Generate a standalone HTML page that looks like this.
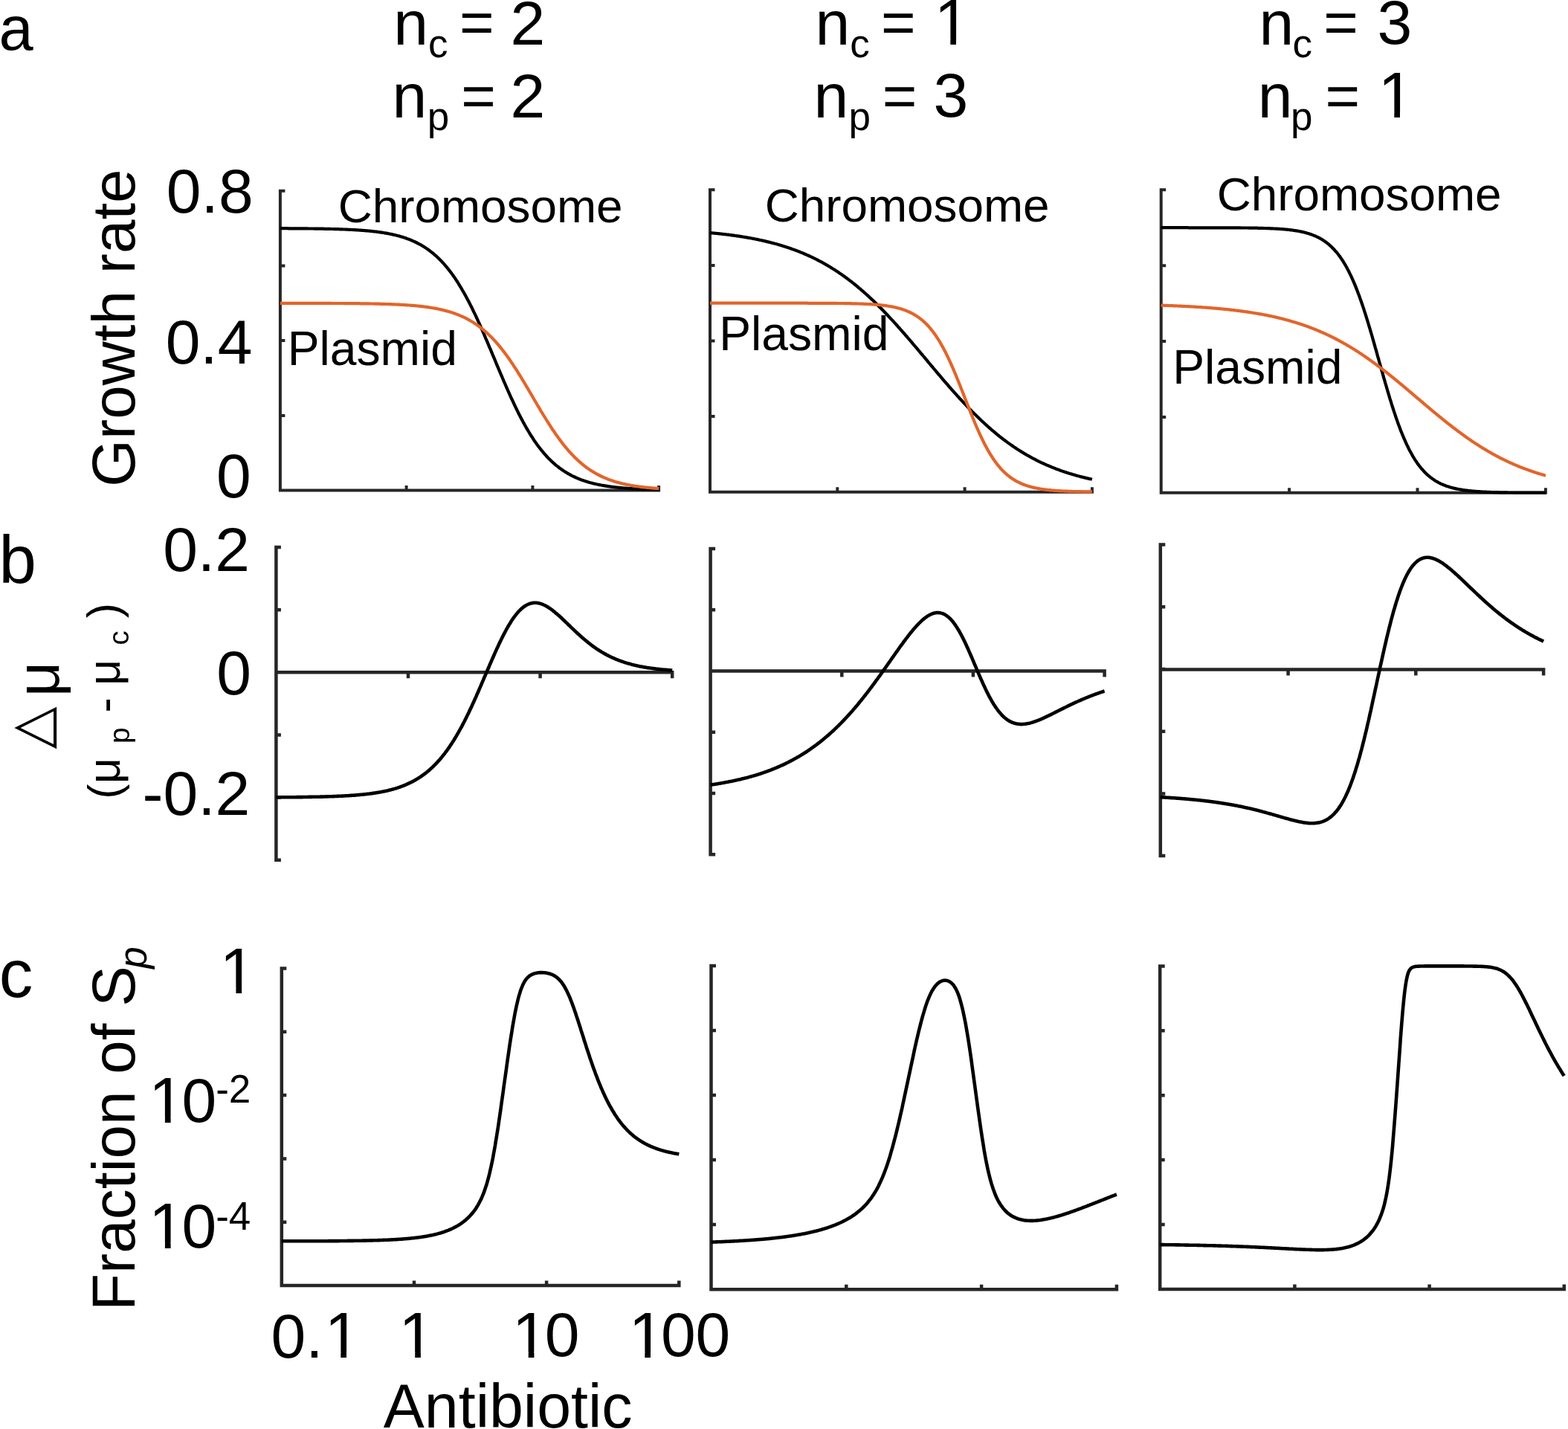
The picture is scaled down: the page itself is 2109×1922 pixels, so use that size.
<!DOCTYPE html>
<html><head><meta charset="utf-8"><title>Figure</title>
<style>html,body{margin:0;padding:0;background:#fff;overflow:hidden;}svg{display:block;}</style></head>
<body><svg width="2109" height="1922" viewBox="0 0 2109 1922" font-family="'Liberation Sans', Arial, sans-serif" fill="#000">
<rect width="2109" height="1922" fill="#fff"/>
<path d="M376.9,254.7 L376.9,659.6 L888.1,659.6 M376.9,256.7 h6.5 M376.9,357.4 h6.5 M376.9,458.1 h6.5 M376.9,558.9 h6.5 M376.9,659.6 h6.5 M376.9,659.6 v-6.5 M546.6,659.6 v-6.5 M716.4,659.6 v-6.5 M886.1,659.6 v-6.5" fill="none" stroke="#262626" stroke-width="4.0" stroke-linecap="butt"/>
<path d="M955.0,253.3 L955.0,661.7 L1470.9,661.7 M955.0,255.3 h6.5 M955.0,356.9 h6.5 M955.0,458.5 h6.5 M955.0,560.1 h6.5 M955.0,661.7 h6.5 M955.0,661.7 v-6.5 M1126.3,661.7 v-6.5 M1297.6,661.7 v-6.5 M1468.9,661.7 v-6.5" fill="none" stroke="#262626" stroke-width="4.0" stroke-linecap="butt"/>
<path d="M1561.7,253.3 L1561.7,662.8 L2080.9,662.8 M1561.7,255.3 h6.5 M1561.7,357.2 h6.5 M1561.7,459.0 h6.5 M1561.7,560.9 h6.5 M1561.7,662.8 h6.5 M1561.7,662.8 v-6.5 M1734.1,662.8 v-6.5 M1906.5,662.8 v-6.5 M2078.9,662.8 v-6.5" fill="none" stroke="#262626" stroke-width="4.0" stroke-linecap="butt"/>
<path d="M371.4,733.85 L371.4,1158.95 M371.4,904.3 L906.45,904.3 M371.4,736.1 h6.5 M371.4,820.2 h6.5 M371.4,904.3 h6.5 M371.4,988.5 h6.5 M371.4,1072.6 h6.5 M371.4,1156.7 h6.5 M549.0,904.3 v8.0 M726.6,904.3 v8.0 M904.2,904.3 v8.0" fill="none" stroke="#262626" stroke-width="4.5" stroke-linecap="butt"/>
<path d="M955.6,735.85 L955.6,1151.45 M955.6,902.5 L1487.85,902.5 M955.6,738.1 h6.5 M955.6,820.3 h6.5 M955.6,902.5 h6.5 M955.6,984.8 h6.5 M955.6,1067.0 h6.5 M955.6,1149.2 h6.5 M1132.3,902.5 v8.0 M1308.9,902.5 v8.0 M1485.6,902.5 v8.0" fill="none" stroke="#262626" stroke-width="4.5" stroke-linecap="butt"/>
<path d="M1560.8,730.25 L1560.8,1153.35 M1560.8,900.6 L2078.35,900.6 M1560.8,732.5 h6.5 M1560.8,816.2 h6.5 M1560.8,899.9 h6.5 M1560.8,983.7 h6.5 M1560.8,1067.4 h6.5 M1560.8,1151.1 h6.5 M1732.6,900.6 v8.0 M1904.3,900.6 v8.0 M2076.1,900.6 v8.0" fill="none" stroke="#262626" stroke-width="4.5" stroke-linecap="butt"/>
<path d="M378.8,1300.15 L378.8,1729.0 L915.55,1729.0 M378.8,1302.4 h6.5 M378.8,1387.7 h6.5 M378.8,1473.0 h6.5 M378.8,1558.4 h6.5 M378.8,1643.7 h6.5 M378.8,1729.0 h6.5 M378.8,1729.0 v-6.5 M557.0,1729.0 v-6.5 M735.1,1729.0 v-6.5 M913.3,1729.0 v-6.5" fill="none" stroke="#262626" stroke-width="4.5" stroke-linecap="butt"/>
<path d="M956.5,1296.65 L956.5,1734.2 L1504.15,1734.2 M956.5,1298.9 h6.5 M956.5,1386.0 h6.5 M956.5,1473.0 h6.5 M956.5,1560.1 h6.5 M956.5,1647.1 h6.5 M956.5,1734.2 h6.5 M956.5,1734.2 v-6.5 M1138.3,1734.2 v-6.5 M1320.1,1734.2 v-6.5 M1501.9,1734.2 v-6.5" fill="none" stroke="#262626" stroke-width="4.5" stroke-linecap="butt"/>
<path d="M1560.2,1297.15 L1560.2,1733.9 L2106.05,1733.9 M1560.2,1299.4 h6.5 M1560.2,1386.3 h6.5 M1560.2,1473.2 h6.5 M1560.2,1560.1 h6.5 M1560.2,1647.0 h6.5 M1560.2,1733.9 h6.5 M1560.2,1733.9 v-6.5 M1741.4,1733.9 v-6.5 M1922.6,1733.9 v-6.5 M2103.8,1733.9 v-6.5" fill="none" stroke="#262626" stroke-width="4.5" stroke-linecap="butt"/>
<path d="M376.9,307.2 L377.9,307.2 378.9,307.2 380.0,307.2 381.0,307.2 382.0,307.2 383.0,307.2 384.0,307.2 385.1,307.2 386.1,307.2 387.1,307.2 388.1,307.3 389.1,307.3 390.2,307.3 391.2,307.3 392.2,307.3 393.2,307.3 394.2,307.3 395.3,307.3 396.3,307.3 397.3,307.3 398.3,307.3 399.3,307.3 400.4,307.3 401.4,307.3 402.4,307.3 403.4,307.4 404.5,307.4 405.5,307.4 406.5,307.4 407.5,307.4 408.5,307.4 409.6,307.4 410.6,307.4 411.6,307.4 412.6,307.4 413.6,307.4 414.7,307.5 415.7,307.5 416.7,307.5 417.7,307.5 418.7,307.5 419.8,307.5 420.8,307.5 421.8,307.5 422.8,307.6 423.8,307.6 424.9,307.6 425.9,307.6 426.9,307.6 427.9,307.6 428.9,307.6 430.0,307.7 431.0,307.7 432.0,307.7 433.0,307.7 434.0,307.7 435.1,307.7 436.1,307.8 437.1,307.8 438.1,307.8 439.1,307.8 440.2,307.8 441.2,307.9 442.2,307.9 443.2,307.9 444.2,307.9 445.3,308.0 446.3,308.0 447.3,308.0 448.3,308.0 449.4,308.1 450.4,308.1 451.4,308.1 452.4,308.2 453.4,308.2 454.5,308.2 455.5,308.2 456.5,308.3 457.5,308.3 458.5,308.3 459.6,308.4 460.6,308.4 461.6,308.5 462.6,308.5 463.6,308.5 464.7,308.6 465.7,308.6 466.7,308.7 467.7,308.7 468.7,308.8 469.8,308.8 470.8,308.9 471.8,308.9 472.8,309.0 473.8,309.0 474.9,309.1 475.9,309.1 476.9,309.2 477.9,309.2 478.9,309.3 480.0,309.4 481.0,309.4 482.0,309.5 483.0,309.6 484.0,309.6 485.1,309.7 486.1,309.8 487.1,309.8 488.1,309.9 489.1,310.0 490.2,310.1 491.2,310.2 492.2,310.3 493.2,310.3 494.3,310.4 495.3,310.5 496.3,310.6 497.3,310.7 498.3,310.8 499.4,310.9 500.4,311.0 501.4,311.1 502.4,311.3 503.4,311.4 504.5,311.5 505.5,311.6 506.5,311.7 507.5,311.9 508.5,312.0 509.6,312.1 510.6,312.3 511.6,312.4 512.6,312.6 513.6,312.7 514.7,312.9 515.7,313.0 516.7,313.2 517.7,313.4 518.7,313.6 519.8,313.7 520.8,313.9 521.8,314.1 522.8,314.3 523.8,314.5 524.9,314.7 525.9,314.9 526.9,315.1 527.9,315.4 528.9,315.6 530.0,315.8 531.0,316.1 532.0,316.3 533.0,316.5 534.0,316.8 535.1,317.1 536.1,317.3 537.1,317.6 538.1,317.9 539.2,318.2 540.2,318.5 541.2,318.8 542.2,319.1 543.2,319.5 544.3,319.8 545.3,320.1 546.3,320.5 547.3,320.9 548.3,321.2 549.4,321.6 550.4,322.0 551.4,322.4 552.4,322.8 553.4,323.2 554.5,323.7 555.5,324.1 556.5,324.6 557.5,325.0 558.5,325.5 559.6,326.0 560.6,326.5 561.6,327.0 562.6,327.6 563.6,328.1 564.7,328.7 565.7,329.2 566.7,329.8 567.7,330.4 568.7,331.0 569.8,331.6 570.8,332.3 571.8,332.9 572.8,333.6 573.8,334.3 574.9,335.0 575.9,335.7 576.9,336.5 577.9,337.2 578.9,338.0 580.0,338.8 581.0,339.6 582.0,340.4 583.0,341.2 584.0,342.1 585.1,343.0 586.1,343.9 587.1,344.8 588.1,345.8 589.2,346.7 590.2,347.7 591.2,348.7 592.2,349.7 593.2,350.8 594.3,351.9 595.3,353.0 596.3,354.1 597.3,355.2 598.3,356.4 599.4,357.6 600.4,358.8 601.4,360.0 602.4,361.3 603.4,362.6 604.5,363.9 605.5,365.2 606.5,366.5 607.5,367.9 608.5,369.3 609.6,370.8 610.6,372.2 611.6,373.7 612.6,375.2 613.6,376.8 614.7,378.3 615.7,379.9 616.7,381.5 617.7,383.2 618.7,384.8 619.8,386.5 620.8,388.2 621.8,390.0 622.8,391.7 623.8,393.5 624.9,395.4 625.9,397.2 626.9,399.1 627.9,401.0 628.9,402.9 630.0,404.8 631.0,406.8 632.0,408.8 633.0,410.8 634.1,412.8 635.1,414.9 636.1,417.0 637.1,419.1 638.1,421.2 639.2,423.4 640.2,425.5 641.2,427.7 642.2,429.9 643.2,432.2 644.3,434.4 645.3,436.7 646.3,438.9 647.3,441.2 648.3,443.5 649.4,445.9 650.4,448.2 651.4,450.5 652.4,452.9 653.4,455.3 654.5,457.7 655.5,460.1 656.5,462.5 657.5,464.9 658.5,467.3 659.6,469.7 660.6,472.1 661.6,474.6 662.6,477.0 663.6,479.4 664.7,481.9 665.7,484.3 666.7,486.8 667.7,489.2 668.7,491.6 669.8,494.1 670.8,496.5 671.8,498.9 672.8,501.3 673.8,503.7 674.9,506.2 675.9,508.5 676.9,510.9 677.9,513.3 679.0,515.7 680.0,518.0 681.0,520.4 682.0,522.7 683.0,525.0 684.1,527.3 685.1,529.6 686.1,531.8 687.1,534.1 688.1,536.3 689.2,538.5 690.2,540.7 691.2,542.9 692.2,545.0 693.2,547.2 694.3,549.3 695.3,551.4 696.3,553.4 697.3,555.5 698.3,557.5 699.4,559.5 700.4,561.5 701.4,563.4 702.4,565.3 703.4,567.2 704.5,569.1 705.5,571.0 706.5,572.8 707.5,574.6 708.5,576.4 709.6,578.1 710.6,579.8 711.6,581.5 712.6,583.2 713.6,584.8 714.7,586.5 715.7,588.0 716.7,589.6 717.7,591.2 718.7,592.7 719.8,594.2 720.8,595.6 721.8,597.1 722.8,598.5 723.8,599.9 724.9,601.2 725.9,602.6 726.9,603.9 727.9,605.1 729.0,606.4 730.0,607.6 731.0,608.9 732.0,610.1 733.0,611.2 734.1,612.4 735.1,613.5 736.1,614.6 737.1,615.7 738.1,616.7 739.2,617.7 740.2,618.8 741.2,619.7 742.2,620.7 743.2,621.7 744.3,622.6 745.3,623.5 746.3,624.4 747.3,625.3 748.3,626.1 749.4,626.9 750.4,627.7 751.4,628.5 752.4,629.3 753.4,630.1 754.5,630.8 755.5,631.5 756.5,632.2 757.5,632.9 758.5,633.6 759.6,634.3 760.6,634.9 761.6,635.5 762.6,636.1 763.6,636.7 764.7,637.3 765.7,637.9 766.7,638.5 767.7,639.0 768.7,639.5 769.8,640.1 770.8,640.6 771.8,641.0 772.8,641.5 773.9,642.0 774.9,642.5 775.9,642.9 776.9,643.3 777.9,643.8 779.0,644.2 780.0,644.6 781.0,645.0 782.0,645.4 783.0,645.7 784.1,646.1 785.1,646.4 786.1,646.8 787.1,647.1 788.1,647.5 789.2,647.8 790.2,648.1 791.2,648.4 792.2,648.7 793.2,649.0 794.3,649.3 795.3,649.5 796.3,649.8 797.3,650.1 798.3,650.3 799.4,650.6 800.4,650.8 801.4,651.0 802.4,651.3 803.4,651.5 804.5,651.7 805.5,651.9 806.5,652.1 807.5,652.3 808.5,652.5 809.6,652.7 810.6,652.9 811.6,653.1 812.6,653.2 813.6,653.4 814.7,653.6 815.7,653.7 816.7,653.9 817.7,654.1 818.8,654.2 819.8,654.3 820.8,654.5 821.8,654.6 822.8,654.8 823.9,654.9 824.9,655.0 825.9,655.1 826.9,655.3 827.9,655.4 829.0,655.5 830.0,655.6 831.0,655.7 832.0,655.8 833.0,655.9 834.1,656.0 835.1,656.1 836.1,656.2 837.1,656.3 838.1,656.4 839.2,656.5 840.2,656.6 841.2,656.6 842.2,656.7 843.2,656.8 844.3,656.9 845.3,657.0 846.3,657.0 847.3,657.1 848.3,657.2 849.4,657.2 850.4,657.3 851.4,657.4 852.4,657.4 853.4,657.5 854.5,657.5 855.5,657.6 856.5,657.6 857.5,657.7 858.5,657.7 859.6,657.8 860.6,657.8 861.6,657.9 862.6,657.9 863.7,658.0 864.7,658.0 865.7,658.1 866.7,658.1 867.7,658.2 868.8,658.2 869.8,658.2 870.8,658.3 871.8,658.3 872.8,658.3 873.9,658.4 874.9,658.4 875.9,658.4 876.9,658.5 877.9,658.5 879.0,658.5 880.0,658.6 881.0,658.6 882.0,658.6 883.0,658.6 884.1,658.7 885.1,658.7 886.1,658.7" fill="none" stroke="#000" stroke-width="4.2"/>
<path d="M376.9,407.8 L377.9,407.8 378.9,407.8 380.0,407.8 381.0,407.8 382.0,407.8 383.0,407.8 384.0,407.8 385.1,407.8 386.1,407.8 387.1,407.8 388.1,407.8 389.1,407.8 390.2,407.8 391.2,407.8 392.2,407.8 393.2,407.8 394.2,407.8 395.3,407.8 396.3,407.8 397.3,407.8 398.3,407.8 399.3,407.8 400.4,407.8 401.4,407.8 402.4,407.8 403.4,407.8 404.5,407.8 405.5,407.8 406.5,407.8 407.5,407.8 408.5,407.8 409.6,407.8 410.6,407.9 411.6,407.9 412.6,407.9 413.6,407.9 414.7,407.9 415.7,407.9 416.7,407.9 417.7,407.9 418.7,407.9 419.8,407.9 420.8,407.9 421.8,407.9 422.8,407.9 423.8,407.9 424.9,407.9 425.9,407.9 426.9,407.9 427.9,407.9 428.9,407.9 430.0,407.9 431.0,407.9 432.0,407.9 433.0,407.9 434.0,407.9 435.1,407.9 436.1,407.9 437.1,407.9 438.1,407.9 439.1,407.9 440.2,407.9 441.2,407.9 442.2,407.9 443.2,407.9 444.2,407.9 445.3,407.9 446.3,408.0 447.3,408.0 448.3,408.0 449.4,408.0 450.4,408.0 451.4,408.0 452.4,408.0 453.4,408.0 454.5,408.0 455.5,408.0 456.5,408.0 457.5,408.0 458.5,408.0 459.6,408.0 460.6,408.0 461.6,408.0 462.6,408.0 463.6,408.1 464.7,408.1 465.7,408.1 466.7,408.1 467.7,408.1 468.7,408.1 469.8,408.1 470.8,408.1 471.8,408.1 472.8,408.1 473.8,408.1 474.9,408.1 475.9,408.2 476.9,408.2 477.9,408.2 478.9,408.2 480.0,408.2 481.0,408.2 482.0,408.2 483.0,408.2 484.0,408.2 485.1,408.3 486.1,408.3 487.1,408.3 488.1,408.3 489.1,408.3 490.2,408.3 491.2,408.3 492.2,408.4 493.2,408.4 494.3,408.4 495.3,408.4 496.3,408.4 497.3,408.4 498.3,408.5 499.4,408.5 500.4,408.5 501.4,408.5 502.4,408.5 503.4,408.6 504.5,408.6 505.5,408.6 506.5,408.6 507.5,408.7 508.5,408.7 509.6,408.7 510.6,408.7 511.6,408.8 512.6,408.8 513.6,408.8 514.7,408.8 515.7,408.9 516.7,408.9 517.7,408.9 518.7,409.0 519.8,409.0 520.8,409.0 521.8,409.1 522.8,409.1 523.8,409.1 524.9,409.2 525.9,409.2 526.9,409.3 527.9,409.3 528.9,409.3 530.0,409.4 531.0,409.4 532.0,409.5 533.0,409.5 534.0,409.6 535.1,409.6 536.1,409.7 537.1,409.7 538.1,409.8 539.2,409.8 540.2,409.9 541.2,409.9 542.2,410.0 543.2,410.1 544.3,410.1 545.3,410.2 546.3,410.3 547.3,410.3 548.3,410.4 549.4,410.5 550.4,410.5 551.4,410.6 552.4,410.7 553.4,410.8 554.5,410.9 555.5,410.9 556.5,411.0 557.5,411.1 558.5,411.2 559.6,411.3 560.6,411.4 561.6,411.5 562.6,411.6 563.6,411.7 564.7,411.8 565.7,411.9 566.7,412.1 567.7,412.2 568.7,412.3 569.8,412.4 570.8,412.5 571.8,412.7 572.8,412.8 573.8,412.9 574.9,413.1 575.9,413.2 576.9,413.4 577.9,413.5 578.9,413.7 580.0,413.9 581.0,414.0 582.0,414.2 583.0,414.4 584.0,414.6 585.1,414.7 586.1,414.9 587.1,415.1 588.1,415.3 589.2,415.5 590.2,415.7 591.2,415.9 592.2,416.2 593.2,416.4 594.3,416.6 595.3,416.9 596.3,417.1 597.3,417.4 598.3,417.6 599.4,417.9 600.4,418.2 601.4,418.4 602.4,418.7 603.4,419.0 604.5,419.3 605.5,419.6 606.5,419.9 607.5,420.3 608.5,420.6 609.6,420.9 610.6,421.3 611.6,421.7 612.6,422.0 613.6,422.4 614.7,422.8 615.7,423.2 616.7,423.6 617.7,424.0 618.7,424.4 619.8,424.9 620.8,425.3 621.8,425.8 622.8,426.2 623.8,426.7 624.9,427.2 625.9,427.7 626.9,428.2 627.9,428.7 628.9,429.3 630.0,429.8 631.0,430.4 632.0,431.0 633.0,431.6 634.1,432.2 635.1,432.8 636.1,433.4 637.1,434.1 638.1,434.7 639.2,435.4 640.2,436.1 641.2,436.8 642.2,437.5 643.2,438.2 644.3,439.0 645.3,439.7 646.3,440.5 647.3,441.3 648.3,442.1 649.4,443.0 650.4,443.8 651.4,444.7 652.4,445.5 653.4,446.4 654.5,447.4 655.5,448.3 656.5,449.2 657.5,450.2 658.5,451.2 659.6,452.2 660.6,453.2 661.6,454.3 662.6,455.3 663.6,456.4 664.7,457.5 665.7,458.6 666.7,459.7 667.7,460.9 668.7,462.1 669.8,463.2 670.8,464.4 671.8,465.7 672.8,466.9 673.8,468.2 674.9,469.5 675.9,470.8 676.9,472.1 677.9,473.4 679.0,474.8 680.0,476.1 681.0,477.5 682.0,478.9 683.0,480.3 684.1,481.8 685.1,483.2 686.1,484.7 687.1,486.2 688.1,487.7 689.2,489.2 690.2,490.8 691.2,492.3 692.2,493.9 693.2,495.4 694.3,497.0 695.3,498.6 696.3,500.2 697.3,501.9 698.3,503.5 699.4,505.1 700.4,506.8 701.4,508.5 702.4,510.2 703.4,511.8 704.5,513.5 705.5,515.2 706.5,516.9 707.5,518.7 708.5,520.4 709.6,522.1 710.6,523.8 711.6,525.6 712.6,527.3 713.6,529.0 714.7,530.8 715.7,532.5 716.7,534.3 717.7,536.0 718.7,537.8 719.8,539.5 720.8,541.2 721.8,543.0 722.8,544.7 723.8,546.4 724.9,548.2 725.9,549.9 726.9,551.6 727.9,553.3 729.0,555.0 730.0,556.7 731.0,558.4 732.0,560.0 733.0,561.7 734.1,563.3 735.1,565.0 736.1,566.6 737.1,568.2 738.1,569.8 739.2,571.4 740.2,573.0 741.2,574.6 742.2,576.1 743.2,577.7 744.3,579.2 745.3,580.7 746.3,582.2 747.3,583.7 748.3,585.1 749.4,586.6 750.4,588.0 751.4,589.4 752.4,590.8 753.4,592.2 754.5,593.5 755.5,594.9 756.5,596.2 757.5,597.5 758.5,598.8 759.6,600.1 760.6,601.3 761.6,602.5 762.6,603.7 763.6,604.9 764.7,606.1 765.7,607.3 766.7,608.4 767.7,609.5 768.7,610.6 769.8,611.7 770.8,612.8 771.8,613.8 772.8,614.9 773.9,615.9 774.9,616.9 775.9,617.8 776.9,618.8 777.9,619.7 779.0,620.6 780.0,621.5 781.0,622.4 782.0,623.3 783.0,624.2 784.1,625.0 785.1,625.8 786.1,626.6 787.1,627.4 788.1,628.2 789.2,628.9 790.2,629.7 791.2,630.4 792.2,631.1 793.2,631.8 794.3,632.5 795.3,633.1 796.3,633.8 797.3,634.4 798.3,635.0 799.4,635.6 800.4,636.2 801.4,636.8 802.4,637.4 803.4,637.9 804.5,638.5 805.5,639.0 806.5,639.5 807.5,640.0 808.5,640.5 809.6,641.0 810.6,641.5 811.6,641.9 812.6,642.4 813.6,642.8 814.7,643.2 815.7,643.7 816.7,644.1 817.7,644.5 818.8,644.9 819.8,645.2 820.8,645.6 821.8,646.0 822.8,646.3 823.9,646.7 824.9,647.0 825.9,647.3 826.9,647.7 827.9,648.0 829.0,648.3 830.0,648.6 831.0,648.8 832.0,649.1 833.0,649.4 834.1,649.7 835.1,649.9 836.1,650.2 837.1,650.4 838.1,650.7 839.2,650.9 840.2,651.1 841.2,651.4 842.2,651.6 843.2,651.8 844.3,652.0 845.3,652.2 846.3,652.4 847.3,652.6 848.3,652.8 849.4,653.0 850.4,653.1 851.4,653.3 852.4,653.5 853.4,653.6 854.5,653.8 855.5,654.0 856.5,654.1 857.5,654.2 858.5,654.4 859.6,654.5 860.6,654.7 861.6,654.8 862.6,654.9 863.7,655.1 864.7,655.2 865.7,655.3 866.7,655.4 867.7,655.5 868.8,655.6 869.8,655.7 870.8,655.8 871.8,655.9 872.8,656.0 873.9,656.1 874.9,656.2 875.9,656.3 876.9,656.4 877.9,656.5 879.0,656.6 880.0,656.7 881.0,656.7 882.0,656.8 883.0,656.9 884.1,657.0 885.1,657.0 886.1,657.1" fill="none" stroke="#E2652B" stroke-width="4.2"/>
<path d="M955.0,313.1 L956.0,313.2 957.1,313.3 958.1,313.4 959.1,313.5 960.1,313.6 961.2,313.7 962.2,313.8 963.2,313.9 964.3,314.0 965.3,314.1 966.3,314.2 967.4,314.3 968.4,314.4 969.4,314.5 970.4,314.6 971.5,314.8 972.5,314.9 973.5,315.0 974.6,315.1 975.6,315.2 976.6,315.4 977.7,315.5 978.7,315.6 979.7,315.7 980.7,315.9 981.8,316.0 982.8,316.1 983.8,316.3 984.9,316.4 985.9,316.6 986.9,316.7 988.0,316.8 989.0,317.0 990.0,317.1 991.0,317.3 992.1,317.4 993.1,317.6 994.1,317.7 995.2,317.9 996.2,318.1 997.2,318.2 998.3,318.4 999.3,318.5 1000.3,318.7 1001.3,318.9 1002.4,319.1 1003.4,319.2 1004.4,319.4 1005.5,319.6 1006.5,319.8 1007.5,319.9 1008.6,320.1 1009.6,320.3 1010.6,320.5 1011.6,320.7 1012.7,320.9 1013.7,321.1 1014.7,321.3 1015.8,321.5 1016.8,321.7 1017.8,321.9 1018.9,322.1 1019.9,322.3 1020.9,322.6 1021.9,322.8 1023.0,323.0 1024.0,323.2 1025.0,323.4 1026.1,323.7 1027.1,323.9 1028.1,324.1 1029.1,324.4 1030.2,324.6 1031.2,324.9 1032.2,325.1 1033.3,325.4 1034.3,325.6 1035.3,325.9 1036.4,326.1 1037.4,326.4 1038.4,326.7 1039.4,326.9 1040.5,327.2 1041.5,327.5 1042.5,327.8 1043.6,328.0 1044.6,328.3 1045.6,328.6 1046.7,328.9 1047.7,329.2 1048.7,329.5 1049.7,329.8 1050.8,330.1 1051.8,330.4 1052.8,330.8 1053.9,331.1 1054.9,331.4 1055.9,331.7 1057.0,332.1 1058.0,332.4 1059.0,332.7 1060.0,333.1 1061.1,333.4 1062.1,333.8 1063.1,334.1 1064.2,334.5 1065.2,334.9 1066.2,335.2 1067.3,335.6 1068.3,336.0 1069.3,336.3 1070.3,336.7 1071.4,337.1 1072.4,337.5 1073.4,337.9 1074.5,338.3 1075.5,338.7 1076.5,339.1 1077.6,339.6 1078.6,340.0 1079.6,340.4 1080.6,340.8 1081.7,341.3 1082.7,341.7 1083.7,342.2 1084.8,342.6 1085.8,343.1 1086.8,343.5 1087.9,344.0 1088.9,344.5 1089.9,344.9 1090.9,345.4 1092.0,345.9 1093.0,346.4 1094.0,346.9 1095.1,347.4 1096.1,347.9 1097.1,348.4 1098.2,348.9 1099.2,349.5 1100.2,350.0 1101.2,350.5 1102.3,351.1 1103.3,351.6 1104.3,352.2 1105.4,352.7 1106.4,353.3 1107.4,353.9 1108.4,354.4 1109.5,355.0 1110.5,355.6 1111.5,356.2 1112.6,356.8 1113.6,357.4 1114.6,358.0 1115.7,358.6 1116.7,359.3 1117.7,359.9 1118.7,360.5 1119.8,361.2 1120.8,361.8 1121.8,362.5 1122.9,363.1 1123.9,363.8 1124.9,364.5 1126.0,365.1 1127.0,365.8 1128.0,366.5 1129.0,367.2 1130.1,367.9 1131.1,368.6 1132.1,369.3 1133.2,370.1 1134.2,370.8 1135.2,371.5 1136.3,372.3 1137.3,373.0 1138.3,373.8 1139.3,374.5 1140.4,375.3 1141.4,376.1 1142.4,376.9 1143.5,377.7 1144.5,378.4 1145.5,379.2 1146.6,380.1 1147.6,380.9 1148.6,381.7 1149.6,382.5 1150.7,383.4 1151.7,384.2 1152.7,385.0 1153.8,385.9 1154.8,386.8 1155.8,387.6 1156.9,388.5 1157.9,389.4 1158.9,390.3 1159.9,391.1 1161.0,392.0 1162.0,393.0 1163.0,393.9 1164.1,394.8 1165.1,395.7 1166.1,396.6 1167.2,397.6 1168.2,398.5 1169.2,399.5 1170.2,400.4 1171.3,401.4 1172.3,402.4 1173.3,403.3 1174.4,404.3 1175.4,405.3 1176.4,406.3 1177.4,407.3 1178.5,408.3 1179.5,409.3 1180.5,410.3 1181.6,411.4 1182.6,412.4 1183.6,413.4 1184.7,414.5 1185.7,415.5 1186.7,416.6 1187.7,417.6 1188.8,418.7 1189.8,419.7 1190.8,420.8 1191.9,421.9 1192.9,423.0 1193.9,424.1 1195.0,425.2 1196.0,426.3 1197.0,427.4 1198.0,428.5 1199.1,429.6 1200.1,430.7 1201.1,431.8 1202.2,432.9 1203.2,434.1 1204.2,435.2 1205.3,436.4 1206.3,437.5 1207.3,438.6 1208.3,439.8 1209.4,441.0 1210.4,442.1 1211.4,443.3 1212.5,444.5 1213.5,445.6 1214.5,446.8 1215.6,448.0 1216.6,449.2 1217.6,450.3 1218.6,451.5 1219.7,452.7 1220.7,453.9 1221.7,455.1 1222.8,456.3 1223.8,457.5 1224.8,458.7 1225.9,459.9 1226.9,461.1 1227.9,462.4 1228.9,463.6 1230.0,464.8 1231.0,466.0 1232.0,467.2 1233.1,468.4 1234.1,469.7 1235.1,470.9 1236.2,472.1 1237.2,473.3 1238.2,474.6 1239.2,475.8 1240.3,477.0 1241.3,478.2 1242.3,479.5 1243.4,480.7 1244.4,481.9 1245.4,483.2 1246.5,484.4 1247.5,485.6 1248.5,486.9 1249.5,488.1 1250.6,489.3 1251.6,490.5 1252.6,491.8 1253.7,493.0 1254.7,494.2 1255.7,495.5 1256.7,496.7 1257.8,497.9 1258.8,499.1 1259.8,500.3 1260.9,501.6 1261.9,502.8 1262.9,504.0 1264.0,505.2 1265.0,506.4 1266.0,507.6 1267.0,508.8 1268.1,510.1 1269.1,511.3 1270.1,512.5 1271.2,513.7 1272.2,514.8 1273.2,516.0 1274.3,517.2 1275.3,518.4 1276.3,519.6 1277.3,520.8 1278.4,522.0 1279.4,523.1 1280.4,524.3 1281.5,525.5 1282.5,526.6 1283.5,527.8 1284.6,528.9 1285.6,530.1 1286.6,531.2 1287.6,532.4 1288.7,533.5 1289.7,534.6 1290.7,535.8 1291.8,536.9 1292.8,538.0 1293.8,539.1 1294.9,540.2 1295.9,541.3 1296.9,542.4 1297.9,543.5 1299.0,544.6 1300.0,545.7 1301.0,546.8 1302.1,547.9 1303.1,548.9 1304.1,550.0 1305.2,551.0 1306.2,552.1 1307.2,553.1 1308.2,554.2 1309.3,555.2 1310.3,556.3 1311.3,557.3 1312.4,558.3 1313.4,559.3 1314.4,560.3 1315.5,561.3 1316.5,562.3 1317.5,563.3 1318.5,564.3 1319.6,565.3 1320.6,566.2 1321.6,567.2 1322.7,568.1 1323.7,569.1 1324.7,570.0 1325.7,571.0 1326.8,571.9 1327.8,572.8 1328.8,573.8 1329.9,574.7 1330.9,575.6 1331.9,576.5 1333.0,577.4 1334.0,578.3 1335.0,579.1 1336.0,580.0 1337.1,580.9 1338.1,581.7 1339.1,582.6 1340.2,583.4 1341.2,584.3 1342.2,585.1 1343.3,586.0 1344.3,586.8 1345.3,587.6 1346.3,588.4 1347.4,589.2 1348.4,590.0 1349.4,590.8 1350.5,591.6 1351.5,592.3 1352.5,593.1 1353.6,593.9 1354.6,594.6 1355.6,595.4 1356.6,596.1 1357.7,596.9 1358.7,597.6 1359.7,598.3 1360.8,599.0 1361.8,599.7 1362.8,600.5 1363.9,601.2 1364.9,601.8 1365.9,602.5 1366.9,603.2 1368.0,603.9 1369.0,604.6 1370.0,605.2 1371.1,605.9 1372.1,606.5 1373.1,607.2 1374.2,607.8 1375.2,608.4 1376.2,609.0 1377.2,609.7 1378.3,610.3 1379.3,610.9 1380.3,611.5 1381.4,612.1 1382.4,612.7 1383.4,613.2 1384.5,613.8 1385.5,614.4 1386.5,615.0 1387.5,615.5 1388.6,616.1 1389.6,616.6 1390.6,617.2 1391.7,617.7 1392.7,618.2 1393.7,618.8 1394.8,619.3 1395.8,619.8 1396.8,620.3 1397.8,620.8 1398.9,621.3 1399.9,621.8 1400.9,622.3 1402.0,622.8 1403.0,623.2 1404.0,623.7 1405.0,624.2 1406.1,624.6 1407.1,625.1 1408.1,625.6 1409.2,626.0 1410.2,626.4 1411.2,626.9 1412.3,627.3 1413.3,627.7 1414.3,628.2 1415.3,628.6 1416.4,629.0 1417.4,629.4 1418.4,629.8 1419.5,630.2 1420.5,630.6 1421.5,631.0 1422.6,631.4 1423.6,631.8 1424.6,632.1 1425.6,632.5 1426.7,632.9 1427.7,633.2 1428.7,633.6 1429.8,634.0 1430.8,634.3 1431.8,634.7 1432.9,635.0 1433.9,635.3 1434.9,635.7 1435.9,636.0 1437.0,636.3 1438.0,636.7 1439.0,637.0 1440.1,637.3 1441.1,637.6 1442.1,637.9 1443.2,638.2 1444.2,638.5 1445.2,638.8 1446.2,639.1 1447.3,639.4 1448.3,639.7 1449.3,640.0 1450.4,640.3 1451.4,640.5 1452.4,640.8 1453.5,641.1 1454.5,641.4 1455.5,641.6 1456.5,641.9 1457.6,642.1 1458.6,642.4 1459.6,642.6 1460.7,642.9 1461.7,643.1 1462.7,643.4 1463.8,643.6 1464.8,643.9 1465.8,644.1 1466.8,644.3 1467.9,644.5 1468.9,644.8" fill="none" stroke="#000" stroke-width="4.2"/>
<path d="M955.0,407.7 L956.0,407.7 957.1,407.7 958.1,407.7 959.1,407.7 960.1,407.7 961.2,407.7 962.2,407.7 963.2,407.7 964.3,407.7 965.3,407.7 966.3,407.7 967.4,407.7 968.4,407.7 969.4,407.7 970.4,407.7 971.5,407.7 972.5,407.7 973.5,407.7 974.6,407.7 975.6,407.7 976.6,407.7 977.7,407.7 978.7,407.7 979.7,407.7 980.7,407.7 981.8,407.7 982.8,407.7 983.8,407.7 984.9,407.7 985.9,407.7 986.9,407.7 988.0,407.7 989.0,407.7 990.0,407.7 991.0,407.7 992.1,407.7 993.1,407.7 994.1,407.7 995.2,407.7 996.2,407.7 997.2,407.7 998.3,407.7 999.3,407.7 1000.3,407.7 1001.3,407.7 1002.4,407.7 1003.4,407.7 1004.4,407.7 1005.5,407.7 1006.5,407.7 1007.5,407.7 1008.6,407.7 1009.6,407.7 1010.6,407.7 1011.6,407.7 1012.7,407.7 1013.7,407.7 1014.7,407.7 1015.8,407.7 1016.8,407.7 1017.8,407.7 1018.9,407.7 1019.9,407.7 1020.9,407.7 1021.9,407.7 1023.0,407.7 1024.0,407.7 1025.0,407.7 1026.1,407.7 1027.1,407.7 1028.1,407.7 1029.1,407.7 1030.2,407.7 1031.2,407.7 1032.2,407.7 1033.3,407.7 1034.3,407.7 1035.3,407.7 1036.4,407.7 1037.4,407.7 1038.4,407.7 1039.4,407.7 1040.5,407.7 1041.5,407.7 1042.5,407.7 1043.6,407.7 1044.6,407.7 1045.6,407.7 1046.7,407.7 1047.7,407.7 1048.7,407.7 1049.7,407.7 1050.8,407.7 1051.8,407.7 1052.8,407.7 1053.9,407.7 1054.9,407.7 1055.9,407.7 1057.0,407.7 1058.0,407.7 1059.0,407.7 1060.0,407.7 1061.1,407.7 1062.1,407.7 1063.1,407.7 1064.2,407.7 1065.2,407.7 1066.2,407.7 1067.3,407.7 1068.3,407.7 1069.3,407.7 1070.3,407.7 1071.4,407.7 1072.4,407.7 1073.4,407.7 1074.5,407.7 1075.5,407.7 1076.5,407.7 1077.6,407.7 1078.6,407.7 1079.6,407.7 1080.6,407.7 1081.7,407.7 1082.7,407.7 1083.7,407.7 1084.8,407.7 1085.8,407.7 1086.8,407.8 1087.9,407.8 1088.9,407.8 1089.9,407.8 1090.9,407.8 1092.0,407.8 1093.0,407.8 1094.0,407.8 1095.1,407.8 1096.1,407.8 1097.1,407.8 1098.2,407.8 1099.2,407.8 1100.2,407.8 1101.2,407.8 1102.3,407.8 1103.3,407.8 1104.3,407.8 1105.4,407.8 1106.4,407.8 1107.4,407.8 1108.4,407.8 1109.5,407.8 1110.5,407.8 1111.5,407.8 1112.6,407.8 1113.6,407.9 1114.6,407.9 1115.7,407.9 1116.7,407.9 1117.7,407.9 1118.7,407.9 1119.8,407.9 1120.8,407.9 1121.8,407.9 1122.9,407.9 1123.9,407.9 1124.9,407.9 1126.0,408.0 1127.0,408.0 1128.0,408.0 1129.0,408.0 1130.1,408.0 1131.1,408.0 1132.1,408.0 1133.2,408.0 1134.2,408.0 1135.2,408.1 1136.3,408.1 1137.3,408.1 1138.3,408.1 1139.3,408.1 1140.4,408.1 1141.4,408.2 1142.4,408.2 1143.5,408.2 1144.5,408.2 1145.5,408.3 1146.6,408.3 1147.6,408.3 1148.6,408.3 1149.6,408.3 1150.7,408.4 1151.7,408.4 1152.7,408.4 1153.8,408.5 1154.8,408.5 1155.8,408.5 1156.9,408.6 1157.9,408.6 1158.9,408.6 1159.9,408.7 1161.0,408.7 1162.0,408.8 1163.0,408.8 1164.1,408.9 1165.1,408.9 1166.1,409.0 1167.2,409.0 1168.2,409.1 1169.2,409.1 1170.2,409.2 1171.3,409.2 1172.3,409.3 1173.3,409.4 1174.4,409.5 1175.4,409.5 1176.4,409.6 1177.4,409.7 1178.5,409.8 1179.5,409.9 1180.5,409.9 1181.6,410.0 1182.6,410.1 1183.6,410.2 1184.7,410.3 1185.7,410.5 1186.7,410.6 1187.7,410.7 1188.8,410.8 1189.8,410.9 1190.8,411.1 1191.9,411.2 1192.9,411.4 1193.9,411.5 1195.0,411.7 1196.0,411.9 1197.0,412.0 1198.0,412.2 1199.1,412.4 1200.1,412.6 1201.1,412.8 1202.2,413.0 1203.2,413.2 1204.2,413.4 1205.3,413.7 1206.3,413.9 1207.3,414.2 1208.3,414.5 1209.4,414.7 1210.4,415.0 1211.4,415.3 1212.5,415.6 1213.5,416.0 1214.5,416.3 1215.6,416.7 1216.6,417.0 1217.6,417.4 1218.6,417.8 1219.7,418.2 1220.7,418.6 1221.7,419.1 1222.8,419.5 1223.8,420.0 1224.8,420.5 1225.9,421.0 1226.9,421.6 1227.9,422.1 1228.9,422.7 1230.0,423.3 1231.0,423.9 1232.0,424.6 1233.1,425.2 1234.1,425.9 1235.1,426.6 1236.2,427.4 1237.2,428.1 1238.2,428.9 1239.2,429.7 1240.3,430.6 1241.3,431.5 1242.3,432.4 1243.4,433.3 1244.4,434.3 1245.4,435.3 1246.5,436.3 1247.5,437.4 1248.5,438.5 1249.5,439.7 1250.6,440.8 1251.6,442.1 1252.6,443.3 1253.7,444.6 1254.7,445.9 1255.7,447.3 1256.7,448.7 1257.8,450.2 1258.8,451.7 1259.8,453.2 1260.9,454.8 1261.9,456.4 1262.9,458.0 1264.0,459.7 1265.0,461.5 1266.0,463.2 1267.0,465.1 1268.1,466.9 1269.1,468.8 1270.1,470.8 1271.2,472.8 1272.2,474.8 1273.2,476.9 1274.3,479.0 1275.3,481.1 1276.3,483.3 1277.3,485.5 1278.4,487.8 1279.4,490.1 1280.4,492.4 1281.5,494.8 1282.5,497.2 1283.5,499.6 1284.6,502.0 1285.6,504.5 1286.6,507.0 1287.6,509.5 1288.7,512.1 1289.7,514.7 1290.7,517.2 1291.8,519.8 1292.8,522.4 1293.8,525.0 1294.9,527.7 1295.9,530.3 1296.9,532.9 1297.9,535.6 1299.0,538.2 1300.0,540.8 1301.0,543.5 1302.1,546.1 1303.1,548.7 1304.1,551.3 1305.2,553.9 1306.2,556.5 1307.2,559.0 1308.2,561.5 1309.3,564.0 1310.3,566.5 1311.3,569.0 1312.4,571.4 1313.4,573.8 1314.4,576.2 1315.5,578.5 1316.5,580.8 1317.5,583.1 1318.5,585.3 1319.6,587.5 1320.6,589.7 1321.6,591.8 1322.7,593.9 1323.7,596.0 1324.7,598.0 1325.7,599.9 1326.8,601.8 1327.8,603.7 1328.8,605.6 1329.9,607.4 1330.9,609.1 1331.9,610.8 1333.0,612.5 1334.0,614.1 1335.0,615.7 1336.0,617.2 1337.1,618.7 1338.1,620.2 1339.1,621.6 1340.2,623.0 1341.2,624.4 1342.2,625.7 1343.3,626.9 1344.3,628.2 1345.3,629.3 1346.3,630.5 1347.4,631.6 1348.4,632.7 1349.4,633.7 1350.5,634.8 1351.5,635.7 1352.5,636.7 1353.6,637.6 1354.6,638.5 1355.6,639.4 1356.6,640.2 1357.7,641.0 1358.7,641.8 1359.7,642.5 1360.8,643.3 1361.8,644.0 1362.8,644.6 1363.9,645.3 1364.9,645.9 1365.9,646.5 1366.9,647.1 1368.0,647.7 1369.0,648.2 1370.0,648.7 1371.1,649.2 1372.1,649.7 1373.1,650.2 1374.2,650.6 1375.2,651.0 1376.2,651.5 1377.2,651.9 1378.3,652.2 1379.3,652.6 1380.3,653.0 1381.4,653.3 1382.4,653.6 1383.4,654.0 1384.5,654.3 1385.5,654.6 1386.5,654.8 1387.5,655.1 1388.6,655.4 1389.6,655.6 1390.6,655.9 1391.7,656.1 1392.7,656.3 1393.7,656.5 1394.8,656.7 1395.8,656.9 1396.8,657.1 1397.8,657.3 1398.9,657.5 1399.9,657.7 1400.9,657.8 1402.0,658.0 1403.0,658.1 1404.0,658.3 1405.0,658.4 1406.1,658.5 1407.1,658.7 1408.1,658.8 1409.2,658.9 1410.2,659.0 1411.2,659.1 1412.3,659.2 1413.3,659.3 1414.3,659.4 1415.3,659.5 1416.4,659.6 1417.4,659.7 1418.4,659.8 1419.5,659.8 1420.5,659.9 1421.5,660.0 1422.6,660.1 1423.6,660.1 1424.6,660.2 1425.6,660.3 1426.7,660.3 1427.7,660.4 1428.7,660.4 1429.8,660.5 1430.8,660.5 1431.8,660.6 1432.9,660.6 1433.9,660.7 1434.9,660.7 1435.9,660.7 1437.0,660.8 1438.0,660.8 1439.0,660.9 1440.1,660.9 1441.1,660.9 1442.1,661.0 1443.2,661.0 1444.2,661.0 1445.2,661.0 1446.2,661.1 1447.3,661.1 1448.3,661.1 1449.3,661.1 1450.4,661.2 1451.4,661.2 1452.4,661.2 1453.5,661.2 1454.5,661.2 1455.5,661.3 1456.5,661.3 1457.6,661.3 1458.6,661.3 1459.6,661.3 1460.7,661.3 1461.7,661.4 1462.7,661.4 1463.8,661.4 1464.8,661.4 1465.8,661.4 1466.8,661.4 1467.9,661.4 1468.9,661.4" fill="none" stroke="#E2652B" stroke-width="4.2"/>
<path d="M1561.7,306.2 L1562.7,306.2 1563.8,306.2 1564.8,306.2 1565.8,306.2 1566.9,306.2 1567.9,306.2 1569.0,306.2 1570.0,306.2 1571.0,306.2 1572.1,306.2 1573.1,306.2 1574.1,306.2 1575.2,306.2 1576.2,306.2 1577.2,306.2 1578.3,306.2 1579.3,306.2 1580.4,306.2 1581.4,306.2 1582.4,306.2 1583.5,306.2 1584.5,306.2 1585.5,306.2 1586.6,306.2 1587.6,306.2 1588.6,306.2 1589.7,306.2 1590.7,306.2 1591.8,306.2 1592.8,306.2 1593.8,306.2 1594.9,306.2 1595.9,306.2 1596.9,306.2 1598.0,306.2 1599.0,306.3 1600.0,306.3 1601.1,306.3 1602.1,306.3 1603.2,306.3 1604.2,306.3 1605.2,306.3 1606.3,306.3 1607.3,306.3 1608.3,306.3 1609.4,306.3 1610.4,306.3 1611.5,306.3 1612.5,306.3 1613.5,306.3 1614.6,306.3 1615.6,306.3 1616.6,306.3 1617.7,306.3 1618.7,306.3 1619.7,306.3 1620.8,306.3 1621.8,306.3 1622.9,306.3 1623.9,306.3 1624.9,306.3 1626.0,306.3 1627.0,306.3 1628.0,306.3 1629.1,306.3 1630.1,306.3 1631.1,306.3 1632.2,306.3 1633.2,306.3 1634.3,306.3 1635.3,306.3 1636.3,306.3 1637.4,306.3 1638.4,306.3 1639.4,306.3 1640.5,306.3 1641.5,306.3 1642.5,306.3 1643.6,306.3 1644.6,306.3 1645.7,306.3 1646.7,306.3 1647.7,306.3 1648.8,306.3 1649.8,306.3 1650.8,306.3 1651.9,306.3 1652.9,306.3 1653.9,306.4 1655.0,306.4 1656.0,306.4 1657.1,306.4 1658.1,306.4 1659.1,306.4 1660.2,306.4 1661.2,306.4 1662.2,306.4 1663.3,306.4 1664.3,306.4 1665.3,306.4 1666.4,306.4 1667.4,306.4 1668.5,306.4 1669.5,306.5 1670.5,306.5 1671.6,306.5 1672.6,306.5 1673.6,306.5 1674.7,306.5 1675.7,306.5 1676.7,306.5 1677.8,306.5 1678.8,306.5 1679.9,306.6 1680.9,306.6 1681.9,306.6 1683.0,306.6 1684.0,306.6 1685.0,306.6 1686.1,306.7 1687.1,306.7 1688.1,306.7 1689.2,306.7 1690.2,306.7 1691.3,306.7 1692.3,306.8 1693.3,306.8 1694.4,306.8 1695.4,306.8 1696.4,306.9 1697.5,306.9 1698.5,306.9 1699.6,307.0 1700.6,307.0 1701.6,307.0 1702.7,307.0 1703.7,307.1 1704.7,307.1 1705.8,307.2 1706.8,307.2 1707.8,307.2 1708.9,307.3 1709.9,307.3 1711.0,307.4 1712.0,307.4 1713.0,307.5 1714.1,307.5 1715.1,307.6 1716.1,307.6 1717.2,307.7 1718.2,307.7 1719.2,307.8 1720.3,307.9 1721.3,307.9 1722.4,308.0 1723.4,308.1 1724.4,308.2 1725.5,308.2 1726.5,308.3 1727.5,308.4 1728.6,308.5 1729.6,308.6 1730.6,308.7 1731.7,308.8 1732.7,308.9 1733.8,309.0 1734.8,309.1 1735.8,309.3 1736.9,309.4 1737.9,309.5 1738.9,309.7 1740.0,309.8 1741.0,310.0 1742.0,310.1 1743.1,310.3 1744.1,310.4 1745.2,310.6 1746.2,310.8 1747.2,311.0 1748.3,311.2 1749.3,311.4 1750.3,311.6 1751.4,311.8 1752.4,312.1 1753.4,312.3 1754.5,312.6 1755.5,312.8 1756.6,313.1 1757.6,313.4 1758.6,313.7 1759.7,314.0 1760.7,314.3 1761.7,314.7 1762.8,315.0 1763.8,315.4 1764.8,315.8 1765.9,316.1 1766.9,316.6 1768.0,317.0 1769.0,317.4 1770.0,317.9 1771.1,318.4 1772.1,318.9 1773.1,319.4 1774.2,319.9 1775.2,320.5 1776.2,321.0 1777.3,321.6 1778.3,322.3 1779.4,322.9 1780.4,323.6 1781.4,324.3 1782.5,325.0 1783.5,325.8 1784.5,326.5 1785.6,327.3 1786.6,328.2 1787.7,329.1 1788.7,330.0 1789.7,330.9 1790.8,331.9 1791.8,332.9 1792.8,333.9 1793.9,335.0 1794.9,336.1 1795.9,337.3 1797.0,338.5 1798.0,339.7 1799.1,341.0 1800.1,342.3 1801.1,343.7 1802.2,345.1 1803.2,346.6 1804.2,348.1 1805.3,349.6 1806.3,351.2 1807.3,352.9 1808.4,354.6 1809.4,356.4 1810.5,358.2 1811.5,360.0 1812.5,362.0 1813.6,364.0 1814.6,366.0 1815.6,368.1 1816.7,370.2 1817.7,372.4 1818.7,374.7 1819.8,377.0 1820.8,379.4 1821.9,381.9 1822.9,384.4 1823.9,386.9 1825.0,389.6 1826.0,392.2 1827.0,395.0 1828.1,397.8 1829.1,400.6 1830.1,403.5 1831.2,406.5 1832.2,409.5 1833.3,412.6 1834.3,415.7 1835.3,418.9 1836.4,422.1 1837.4,425.4 1838.4,428.7 1839.5,432.1 1840.5,435.5 1841.5,438.9 1842.6,442.4 1843.6,445.9 1844.7,449.5 1845.7,453.0 1846.7,456.6 1847.8,460.3 1848.8,463.9 1849.8,467.6 1850.9,471.2 1851.9,474.9 1852.9,478.6 1854.0,482.3 1855.0,486.0 1856.1,489.7 1857.1,493.4 1858.1,497.1 1859.2,500.8 1860.2,504.4 1861.2,508.1 1862.3,511.7 1863.3,515.3 1864.4,518.9 1865.4,522.4 1866.4,526.0 1867.5,529.5 1868.5,532.9 1869.5,536.3 1870.6,539.7 1871.6,543.0 1872.6,546.3 1873.7,549.5 1874.7,552.7 1875.8,555.8 1876.8,558.9 1877.8,562.0 1878.9,564.9 1879.9,567.9 1880.9,570.7 1882.0,573.5 1883.0,576.3 1884.0,579.0 1885.1,581.6 1886.1,584.2 1887.2,586.7 1888.2,589.1 1889.2,591.5 1890.3,593.9 1891.3,596.2 1892.3,598.4 1893.4,600.5 1894.4,602.7 1895.4,604.7 1896.5,606.7 1897.5,608.6 1898.6,610.5 1899.6,612.3 1900.6,614.1 1901.7,615.8 1902.7,617.5 1903.7,619.1 1904.8,620.7 1905.8,622.2 1906.8,623.7 1907.9,625.1 1908.9,626.5 1910.0,627.8 1911.0,629.1 1912.0,630.3 1913.1,631.5 1914.1,632.7 1915.1,633.8 1916.2,634.9 1917.2,636.0 1918.2,637.0 1919.3,638.0 1920.3,638.9 1921.4,639.8 1922.4,640.7 1923.4,641.5 1924.5,642.3 1925.5,643.1 1926.5,643.9 1927.6,644.6 1928.6,645.3 1929.6,646.0 1930.7,646.7 1931.7,647.3 1932.8,647.9 1933.8,648.5 1934.8,649.0 1935.9,649.6 1936.9,650.1 1937.9,650.6 1939.0,651.1 1940.0,651.5 1941.0,652.0 1942.1,652.4 1943.1,652.8 1944.2,653.2 1945.2,653.6 1946.2,654.0 1947.3,654.3 1948.3,654.6 1949.3,655.0 1950.4,655.3 1951.4,655.6 1952.5,655.9 1953.5,656.1 1954.5,656.4 1955.6,656.7 1956.6,656.9 1957.6,657.1 1958.7,657.4 1959.7,657.6 1960.7,657.8 1961.8,658.0 1962.8,658.2 1963.9,658.4 1964.9,658.6 1965.9,658.7 1967.0,658.9 1968.0,659.0 1969.0,659.2 1970.1,659.3 1971.1,659.5 1972.1,659.6 1973.2,659.7 1974.2,659.9 1975.3,660.0 1976.3,660.1 1977.3,660.2 1978.4,660.3 1979.4,660.4 1980.4,660.5 1981.5,660.6 1982.5,660.7 1983.5,660.8 1984.6,660.9 1985.6,660.9 1986.7,661.0 1987.7,661.1 1988.7,661.2 1989.8,661.2 1990.8,661.3 1991.8,661.3 1992.9,661.4 1993.9,661.5 1994.9,661.5 1996.0,661.6 1997.0,661.6 1998.1,661.7 1999.1,661.7 2000.1,661.8 2001.2,661.8 2002.2,661.8 2003.2,661.9 2004.3,661.9 2005.3,662.0 2006.3,662.0 2007.4,662.0 2008.4,662.1 2009.5,662.1 2010.5,662.1 2011.5,662.1 2012.6,662.2 2013.6,662.2 2014.6,662.2 2015.7,662.2 2016.7,662.3 2017.7,662.3 2018.8,662.3 2019.8,662.3 2020.9,662.3 2021.9,662.4 2022.9,662.4 2024.0,662.4 2025.0,662.4 2026.0,662.4 2027.1,662.4 2028.1,662.5 2029.1,662.5 2030.2,662.5 2031.2,662.5 2032.3,662.5 2033.3,662.5 2034.3,662.5 2035.4,662.5 2036.4,662.6 2037.4,662.6 2038.5,662.6 2039.5,662.6 2040.6,662.6 2041.6,662.6 2042.6,662.6 2043.7,662.6 2044.7,662.6 2045.7,662.6 2046.8,662.6 2047.8,662.6 2048.8,662.7 2049.9,662.7 2050.9,662.7 2052.0,662.7 2053.0,662.7 2054.0,662.7 2055.1,662.7 2056.1,662.7 2057.1,662.7 2058.2,662.7 2059.2,662.7 2060.2,662.7 2061.3,662.7 2062.3,662.7 2063.4,662.7 2064.4,662.7 2065.4,662.7 2066.5,662.7 2067.5,662.7 2068.5,662.7 2069.6,662.7 2070.6,662.7 2071.6,662.7 2072.7,662.7 2073.7,662.7 2074.8,662.7 2075.8,662.7 2076.8,662.8 2077.9,662.8 2078.9,662.8" fill="none" stroke="#000" stroke-width="4.2"/>
<path d="M1561.7,410.6 L1562.7,410.7 1563.8,410.7 1564.8,410.7 1565.8,410.8 1566.9,410.8 1567.9,410.9 1569.0,410.9 1570.0,410.9 1571.0,411.0 1572.1,411.0 1573.1,411.0 1574.1,411.1 1575.2,411.1 1576.2,411.2 1577.2,411.2 1578.3,411.3 1579.3,411.3 1580.4,411.3 1581.4,411.4 1582.4,411.4 1583.5,411.5 1584.5,411.5 1585.5,411.6 1586.6,411.6 1587.6,411.7 1588.6,411.7 1589.7,411.8 1590.7,411.8 1591.8,411.9 1592.8,411.9 1593.8,412.0 1594.9,412.0 1595.9,412.1 1596.9,412.1 1598.0,412.2 1599.0,412.2 1600.0,412.3 1601.1,412.4 1602.1,412.4 1603.2,412.5 1604.2,412.5 1605.2,412.6 1606.3,412.6 1607.3,412.7 1608.3,412.8 1609.4,412.8 1610.4,412.9 1611.5,413.0 1612.5,413.0 1613.5,413.1 1614.6,413.2 1615.6,413.2 1616.6,413.3 1617.7,413.4 1618.7,413.5 1619.7,413.5 1620.8,413.6 1621.8,413.7 1622.9,413.7 1623.9,413.8 1624.9,413.9 1626.0,414.0 1627.0,414.1 1628.0,414.1 1629.1,414.2 1630.1,414.3 1631.1,414.4 1632.2,414.5 1633.2,414.6 1634.3,414.7 1635.3,414.7 1636.3,414.8 1637.4,414.9 1638.4,415.0 1639.4,415.1 1640.5,415.2 1641.5,415.3 1642.5,415.4 1643.6,415.5 1644.6,415.6 1645.7,415.7 1646.7,415.8 1647.7,415.9 1648.8,416.0 1649.8,416.1 1650.8,416.2 1651.9,416.3 1652.9,416.4 1653.9,416.6 1655.0,416.7 1656.0,416.8 1657.1,416.9 1658.1,417.0 1659.1,417.1 1660.2,417.3 1661.2,417.4 1662.2,417.5 1663.3,417.6 1664.3,417.8 1665.3,417.9 1666.4,418.0 1667.4,418.2 1668.5,418.3 1669.5,418.4 1670.5,418.6 1671.6,418.7 1672.6,418.8 1673.6,419.0 1674.7,419.1 1675.7,419.3 1676.7,419.4 1677.8,419.6 1678.8,419.7 1679.9,419.9 1680.9,420.0 1681.9,420.2 1683.0,420.4 1684.0,420.5 1685.0,420.7 1686.1,420.9 1687.1,421.0 1688.1,421.2 1689.2,421.4 1690.2,421.5 1691.3,421.7 1692.3,421.9 1693.3,422.1 1694.4,422.3 1695.4,422.4 1696.4,422.6 1697.5,422.8 1698.5,423.0 1699.6,423.2 1700.6,423.4 1701.6,423.6 1702.7,423.8 1703.7,424.0 1704.7,424.2 1705.8,424.4 1706.8,424.7 1707.8,424.9 1708.9,425.1 1709.9,425.3 1711.0,425.5 1712.0,425.8 1713.0,426.0 1714.1,426.2 1715.1,426.4 1716.1,426.7 1717.2,426.9 1718.2,427.2 1719.2,427.4 1720.3,427.7 1721.3,427.9 1722.4,428.2 1723.4,428.4 1724.4,428.7 1725.5,428.9 1726.5,429.2 1727.5,429.5 1728.6,429.8 1729.6,430.0 1730.6,430.3 1731.7,430.6 1732.7,430.9 1733.8,431.2 1734.8,431.5 1735.8,431.8 1736.9,432.1 1737.9,432.4 1738.9,432.7 1740.0,433.0 1741.0,433.3 1742.0,433.6 1743.1,433.9 1744.1,434.2 1745.2,434.6 1746.2,434.9 1747.2,435.2 1748.3,435.6 1749.3,435.9 1750.3,436.3 1751.4,436.6 1752.4,437.0 1753.4,437.3 1754.5,437.7 1755.5,438.0 1756.6,438.4 1757.6,438.8 1758.6,439.1 1759.7,439.5 1760.7,439.9 1761.7,440.3 1762.8,440.7 1763.8,441.1 1764.8,441.5 1765.9,441.9 1766.9,442.3 1768.0,442.7 1769.0,443.1 1770.0,443.5 1771.1,444.0 1772.1,444.4 1773.1,444.8 1774.2,445.3 1775.2,445.7 1776.2,446.2 1777.3,446.6 1778.3,447.1 1779.4,447.5 1780.4,448.0 1781.4,448.4 1782.5,448.9 1783.5,449.4 1784.5,449.9 1785.6,450.4 1786.6,450.9 1787.7,451.3 1788.7,451.8 1789.7,452.4 1790.8,452.9 1791.8,453.4 1792.8,453.9 1793.9,454.4 1794.9,454.9 1795.9,455.5 1797.0,456.0 1798.0,456.5 1799.1,457.1 1800.1,457.6 1801.1,458.2 1802.2,458.8 1803.2,459.3 1804.2,459.9 1805.3,460.5 1806.3,461.0 1807.3,461.6 1808.4,462.2 1809.4,462.8 1810.5,463.4 1811.5,464.0 1812.5,464.6 1813.6,465.2 1814.6,465.8 1815.6,466.5 1816.7,467.1 1817.7,467.7 1818.7,468.3 1819.8,469.0 1820.8,469.6 1821.9,470.3 1822.9,470.9 1823.9,471.6 1825.0,472.2 1826.0,472.9 1827.0,473.6 1828.1,474.3 1829.1,474.9 1830.1,475.6 1831.2,476.3 1832.2,477.0 1833.3,477.7 1834.3,478.4 1835.3,479.1 1836.4,479.8 1837.4,480.5 1838.4,481.3 1839.5,482.0 1840.5,482.7 1841.5,483.4 1842.6,484.2 1843.6,484.9 1844.7,485.7 1845.7,486.4 1846.7,487.2 1847.8,487.9 1848.8,488.7 1849.8,489.4 1850.9,490.2 1851.9,491.0 1852.9,491.8 1854.0,492.5 1855.0,493.3 1856.1,494.1 1857.1,494.9 1858.1,495.7 1859.2,496.5 1860.2,497.3 1861.2,498.1 1862.3,498.9 1863.3,499.7 1864.4,500.5 1865.4,501.3 1866.4,502.2 1867.5,503.0 1868.5,503.8 1869.5,504.6 1870.6,505.5 1871.6,506.3 1872.6,507.1 1873.7,508.0 1874.7,508.8 1875.8,509.7 1876.8,510.5 1877.8,511.4 1878.9,512.2 1879.9,513.1 1880.9,513.9 1882.0,514.8 1883.0,515.6 1884.0,516.5 1885.1,517.4 1886.1,518.2 1887.2,519.1 1888.2,520.0 1889.2,520.8 1890.3,521.7 1891.3,522.6 1892.3,523.4 1893.4,524.3 1894.4,525.2 1895.4,526.1 1896.5,526.9 1897.5,527.8 1898.6,528.7 1899.6,529.6 1900.6,530.5 1901.7,531.3 1902.7,532.2 1903.7,533.1 1904.8,534.0 1905.8,534.9 1906.8,535.8 1907.9,536.6 1908.9,537.5 1910.0,538.4 1911.0,539.3 1912.0,540.2 1913.1,541.0 1914.1,541.9 1915.1,542.8 1916.2,543.7 1917.2,544.5 1918.2,545.4 1919.3,546.3 1920.3,547.2 1921.4,548.0 1922.4,548.9 1923.4,549.8 1924.5,550.7 1925.5,551.5 1926.5,552.4 1927.6,553.3 1928.6,554.1 1929.6,555.0 1930.7,555.8 1931.7,556.7 1932.8,557.6 1933.8,558.4 1934.8,559.3 1935.9,560.1 1936.9,561.0 1937.9,561.8 1939.0,562.6 1940.0,563.5 1941.0,564.3 1942.1,565.2 1943.1,566.0 1944.2,566.8 1945.2,567.6 1946.2,568.5 1947.3,569.3 1948.3,570.1 1949.3,570.9 1950.4,571.7 1951.4,572.5 1952.5,573.4 1953.5,574.2 1954.5,575.0 1955.6,575.7 1956.6,576.5 1957.6,577.3 1958.7,578.1 1959.7,578.9 1960.7,579.7 1961.8,580.4 1962.8,581.2 1963.9,582.0 1964.9,582.7 1965.9,583.5 1967.0,584.2 1968.0,585.0 1969.0,585.7 1970.1,586.5 1971.1,587.2 1972.1,588.0 1973.2,588.7 1974.2,589.4 1975.3,590.1 1976.3,590.9 1977.3,591.6 1978.4,592.3 1979.4,593.0 1980.4,593.7 1981.5,594.4 1982.5,595.1 1983.5,595.7 1984.6,596.4 1985.6,597.1 1986.7,597.8 1987.7,598.4 1988.7,599.1 1989.8,599.8 1990.8,600.4 1991.8,601.1 1992.9,601.7 1993.9,602.4 1994.9,603.0 1996.0,603.6 1997.0,604.3 1998.1,604.9 1999.1,605.5 2000.1,606.1 2001.2,606.7 2002.2,607.3 2003.2,607.9 2004.3,608.5 2005.3,609.1 2006.3,609.7 2007.4,610.3 2008.4,610.8 2009.5,611.4 2010.5,612.0 2011.5,612.5 2012.6,613.1 2013.6,613.6 2014.6,614.2 2015.7,614.7 2016.7,615.3 2017.7,615.8 2018.8,616.3 2019.8,616.8 2020.9,617.4 2021.9,617.9 2022.9,618.4 2024.0,618.9 2025.0,619.4 2026.0,619.9 2027.1,620.4 2028.1,620.9 2029.1,621.4 2030.2,621.8 2031.2,622.3 2032.3,622.8 2033.3,623.2 2034.3,623.7 2035.4,624.2 2036.4,624.6 2037.4,625.1 2038.5,625.5 2039.5,625.9 2040.6,626.4 2041.6,626.8 2042.6,627.2 2043.7,627.7 2044.7,628.1 2045.7,628.5 2046.8,628.9 2047.8,629.3 2048.8,629.7 2049.9,630.1 2050.9,630.5 2052.0,630.9 2053.0,631.3 2054.0,631.6 2055.1,632.0 2056.1,632.4 2057.1,632.8 2058.2,633.1 2059.2,633.5 2060.2,633.8 2061.3,634.2 2062.3,634.5 2063.4,634.9 2064.4,635.2 2065.4,635.6 2066.5,635.9 2067.5,636.2 2068.5,636.6 2069.6,636.9 2070.6,637.2 2071.6,637.5 2072.7,637.8 2073.7,638.1 2074.8,638.5 2075.8,638.8 2076.8,639.1 2077.9,639.4 2078.9,639.6" fill="none" stroke="#E2652B" stroke-width="4.2"/>
<path d="M371.4,1072.3 L372.5,1072.3 373.5,1072.3 374.6,1072.3 375.7,1072.3 376.7,1072.3 377.8,1072.3 378.9,1072.3 379.9,1072.3 381.0,1072.3 382.1,1072.3 383.1,1072.3 384.2,1072.3 385.3,1072.3 386.3,1072.3 387.4,1072.2 388.5,1072.2 389.6,1072.2 390.6,1072.2 391.7,1072.2 392.8,1072.2 393.8,1072.2 394.9,1072.2 396.0,1072.2 397.0,1072.2 398.1,1072.2 399.2,1072.1 400.2,1072.1 401.3,1072.1 402.4,1072.1 403.4,1072.1 404.5,1072.1 405.6,1072.1 406.6,1072.1 407.7,1072.0 408.8,1072.0 409.8,1072.0 410.9,1072.0 412.0,1072.0 413.0,1072.0 414.1,1072.0 415.2,1071.9 416.2,1071.9 417.3,1071.9 418.4,1071.9 419.4,1071.9 420.5,1071.8 421.6,1071.8 422.7,1071.8 423.7,1071.8 424.8,1071.8 425.9,1071.7 426.9,1071.7 428.0,1071.7 429.1,1071.7 430.1,1071.7 431.2,1071.6 432.3,1071.6 433.3,1071.6 434.4,1071.6 435.5,1071.5 436.5,1071.5 437.6,1071.5 438.7,1071.4 439.7,1071.4 440.8,1071.4 441.9,1071.3 442.9,1071.3 444.0,1071.3 445.1,1071.2 446.1,1071.2 447.2,1071.2 448.3,1071.1 449.3,1071.1 450.4,1071.0 451.5,1071.0 452.5,1071.0 453.6,1070.9 454.7,1070.9 455.8,1070.8 456.8,1070.8 457.9,1070.7 459.0,1070.7 460.0,1070.6 461.1,1070.6 462.2,1070.5 463.2,1070.5 464.3,1070.4 465.4,1070.3 466.4,1070.3 467.5,1070.2 468.6,1070.2 469.6,1070.1 470.7,1070.0 471.8,1069.9 472.8,1069.9 473.9,1069.8 475.0,1069.7 476.0,1069.6 477.1,1069.6 478.2,1069.5 479.2,1069.4 480.3,1069.3 481.4,1069.2 482.4,1069.1 483.5,1069.0 484.6,1068.9 485.6,1068.8 486.7,1068.7 487.8,1068.6 488.9,1068.5 489.9,1068.4 491.0,1068.3 492.1,1068.2 493.1,1068.0 494.2,1067.9 495.3,1067.8 496.3,1067.7 497.4,1067.5 498.5,1067.4 499.5,1067.2 500.6,1067.1 501.7,1066.9 502.7,1066.8 503.8,1066.6 504.9,1066.5 505.9,1066.3 507.0,1066.1 508.1,1066.0 509.1,1065.8 510.2,1065.6 511.3,1065.4 512.3,1065.2 513.4,1065.0 514.5,1064.8 515.5,1064.6 516.6,1064.4 517.7,1064.1 518.7,1063.9 519.8,1063.7 520.9,1063.4 522.0,1063.2 523.0,1062.9 524.1,1062.6 525.2,1062.4 526.2,1062.1 527.3,1061.8 528.4,1061.5 529.4,1061.2 530.5,1060.9 531.6,1060.6 532.6,1060.3 533.7,1059.9 534.8,1059.6 535.8,1059.2 536.9,1058.9 538.0,1058.5 539.0,1058.1 540.1,1057.7 541.2,1057.3 542.2,1056.9 543.3,1056.5 544.4,1056.1 545.4,1055.6 546.5,1055.2 547.6,1054.7 548.6,1054.2 549.7,1053.7 550.8,1053.2 551.8,1052.7 552.9,1052.2 554.0,1051.6 555.1,1051.1 556.1,1050.5 557.2,1049.9 558.3,1049.3 559.3,1048.7 560.4,1048.1 561.5,1047.4 562.5,1046.8 563.6,1046.1 564.7,1045.4 565.7,1044.7 566.8,1044.0 567.9,1043.2 568.9,1042.5 570.0,1041.7 571.1,1040.9 572.1,1040.1 573.2,1039.2 574.3,1038.4 575.3,1037.5 576.4,1036.6 577.5,1035.7 578.5,1034.7 579.6,1033.8 580.7,1032.8 581.7,1031.8 582.8,1030.8 583.9,1029.7 584.9,1028.7 586.0,1027.6 587.1,1026.4 588.2,1025.3 589.2,1024.1 590.3,1022.9 591.4,1021.7 592.4,1020.5 593.5,1019.2 594.6,1017.9 595.6,1016.6 596.7,1015.2 597.8,1013.9 598.8,1012.5 599.9,1011.0 601.0,1009.6 602.0,1008.1 603.1,1006.6 604.2,1005.1 605.2,1003.5 606.3,1001.9 607.4,1000.3 608.4,998.6 609.5,996.9 610.6,995.2 611.6,993.5 612.7,991.7 613.8,989.9 614.8,988.1 615.9,986.3 617.0,984.4 618.0,982.5 619.1,980.5 620.2,978.6 621.3,976.6 622.3,974.6 623.4,972.5 624.5,970.5 625.5,968.4 626.6,966.2 627.7,964.1 628.7,961.9 629.8,959.7 630.9,957.5 631.9,955.3 633.0,953.0 634.1,950.7 635.1,948.4 636.2,946.1 637.3,943.7 638.3,941.4 639.4,939.0 640.5,936.6 641.5,934.2 642.6,931.7 643.7,929.3 644.7,926.8 645.8,924.4 646.9,921.9 647.9,919.4 649.0,916.9 650.1,914.4 651.1,911.9 652.2,909.4 653.3,906.9 654.3,904.4 655.4,902.0 656.5,899.5 657.6,897.0 658.6,894.5 659.7,892.0 660.8,889.5 661.8,887.1 662.9,884.7 664.0,882.2 665.0,879.8 666.1,877.4 667.2,875.1 668.2,872.7 669.3,870.4 670.4,868.1 671.4,865.8 672.5,863.6 673.6,861.3 674.6,859.2 675.7,857.0 676.8,854.9 677.8,852.8 678.9,850.8 680.0,848.8 681.0,846.8 682.1,844.9 683.2,843.0 684.2,841.2 685.3,839.4 686.4,837.7 687.4,836.0 688.5,834.3 689.6,832.7 690.7,831.2 691.7,829.7 692.8,828.3 693.9,826.9 694.9,825.6 696.0,824.3 697.1,823.1 698.1,821.9 699.2,820.8 700.3,819.8 701.3,818.8 702.4,817.9 703.5,817.0 704.5,816.2 705.6,815.5 706.7,814.8 707.7,814.1 708.8,813.5 709.9,813.0 710.9,812.5 712.0,812.1 713.1,811.8 714.1,811.5 715.2,811.2 716.3,811.0 717.3,810.9 718.4,810.8 719.5,810.8 720.5,810.8 721.6,810.8 722.7,811.0 723.8,811.1 724.8,811.3 725.9,811.6 727.0,811.9 728.0,812.2 729.1,812.6 730.2,813.0 731.2,813.5 732.3,814.0 733.4,814.5 734.4,815.1 735.5,815.7 736.6,816.3 737.6,817.0 738.7,817.7 739.8,818.4 740.8,819.2 741.9,819.9 743.0,820.7 744.0,821.6 745.1,822.4 746.2,823.3 747.2,824.2 748.3,825.1 749.4,826.0 750.4,826.9 751.5,827.9 752.6,828.8 753.6,829.8 754.7,830.8 755.8,831.8 756.9,832.8 757.9,833.8 759.0,834.8 760.1,835.9 761.1,836.9 762.2,837.9 763.3,838.9 764.3,840.0 765.4,841.0 766.5,842.0 767.5,843.1 768.6,844.1 769.7,845.1 770.7,846.1 771.8,847.2 772.9,848.2 773.9,849.2 775.0,850.2 776.1,851.2 777.1,852.2 778.2,853.1 779.3,854.1 780.3,855.1 781.4,856.0 782.5,857.0 783.5,857.9 784.6,858.8 785.7,859.7 786.7,860.6 787.8,861.5 788.9,862.4 790.0,863.3 791.0,864.1 792.1,865.0 793.2,865.8 794.2,866.7 795.3,867.5 796.4,868.3 797.4,869.0 798.5,869.8 799.6,870.6 800.6,871.3 801.7,872.1 802.8,872.8 803.8,873.5 804.9,874.2 806.0,874.9 807.0,875.6 808.1,876.2 809.2,876.9 810.2,877.5 811.3,878.1 812.4,878.8 813.4,879.4 814.5,879.9 815.6,880.5 816.6,881.1 817.7,881.6 818.8,882.2 819.8,882.7 820.9,883.2 822.0,883.8 823.1,884.3 824.1,884.7 825.2,885.2 826.3,885.7 827.3,886.1 828.4,886.6 829.5,887.0 830.5,887.5 831.6,887.9 832.7,888.3 833.7,888.7 834.8,889.1 835.9,889.5 836.9,889.8 838.0,890.2 839.1,890.6 840.1,890.9 841.2,891.3 842.3,891.6 843.3,891.9 844.4,892.2 845.5,892.5 846.5,892.8 847.6,893.1 848.7,893.4 849.7,893.7 850.8,894.0 851.9,894.2 852.9,894.5 854.0,894.8 855.1,895.0 856.2,895.2 857.2,895.5 858.3,895.7 859.4,895.9 860.4,896.2 861.5,896.4 862.6,896.6 863.6,896.8 864.7,897.0 865.8,897.2 866.8,897.4 867.9,897.5 869.0,897.7 870.0,897.9 871.1,898.1 872.2,898.2 873.2,898.4 874.3,898.5 875.4,898.7 876.4,898.8 877.5,899.0 878.6,899.1 879.6,899.3 880.7,899.4 881.8,899.5 882.8,899.7 883.9,899.8 885.0,899.9 886.0,900.0 887.1,900.1 888.2,900.2 889.3,900.4 890.3,900.5 891.4,900.6 892.5,900.7 893.5,900.8 894.6,900.9 895.7,900.9 896.7,901.0 897.8,901.1 898.9,901.2 899.9,901.3 901.0,901.4 902.1,901.5 903.1,901.5 904.2,901.6" fill="none" stroke="#000" stroke-width="4.6"/>
<path d="M955.6,1055.7 L956.7,1055.5 957.7,1055.3 958.8,1055.2 959.8,1055.0 960.9,1054.9 962.0,1054.7 963.0,1054.5 964.1,1054.4 965.2,1054.2 966.2,1054.0 967.3,1053.8 968.3,1053.7 969.4,1053.5 970.5,1053.3 971.5,1053.1 972.6,1052.9 973.7,1052.7 974.7,1052.5 975.8,1052.3 976.8,1052.1 977.9,1051.9 979.0,1051.7 980.0,1051.5 981.1,1051.3 982.2,1051.1 983.2,1050.9 984.3,1050.7 985.3,1050.5 986.4,1050.2 987.5,1050.0 988.5,1049.8 989.6,1049.6 990.7,1049.3 991.7,1049.1 992.8,1048.8 993.8,1048.6 994.9,1048.4 996.0,1048.1 997.0,1047.8 998.1,1047.6 999.1,1047.3 1000.2,1047.1 1001.3,1046.8 1002.3,1046.5 1003.4,1046.3 1004.5,1046.0 1005.5,1045.7 1006.6,1045.4 1007.6,1045.1 1008.7,1044.8 1009.8,1044.5 1010.8,1044.2 1011.9,1043.9 1013.0,1043.6 1014.0,1043.3 1015.1,1043.0 1016.1,1042.7 1017.2,1042.4 1018.3,1042.0 1019.3,1041.7 1020.4,1041.4 1021.5,1041.0 1022.5,1040.7 1023.6,1040.3 1024.6,1040.0 1025.7,1039.6 1026.8,1039.2 1027.8,1038.9 1028.9,1038.5 1029.9,1038.1 1031.0,1037.8 1032.1,1037.4 1033.1,1037.0 1034.2,1036.6 1035.3,1036.2 1036.3,1035.8 1037.4,1035.4 1038.4,1034.9 1039.5,1034.5 1040.6,1034.1 1041.6,1033.7 1042.7,1033.2 1043.8,1032.8 1044.8,1032.3 1045.9,1031.9 1046.9,1031.4 1048.0,1031.0 1049.1,1030.5 1050.1,1030.0 1051.2,1029.5 1052.3,1029.1 1053.3,1028.6 1054.4,1028.1 1055.4,1027.6 1056.5,1027.1 1057.6,1026.5 1058.6,1026.0 1059.7,1025.5 1060.8,1025.0 1061.8,1024.4 1062.9,1023.9 1063.9,1023.3 1065.0,1022.7 1066.1,1022.2 1067.1,1021.6 1068.2,1021.0 1069.2,1020.4 1070.3,1019.8 1071.4,1019.2 1072.4,1018.6 1073.5,1018.0 1074.6,1017.4 1075.6,1016.8 1076.7,1016.1 1077.7,1015.5 1078.8,1014.8 1079.9,1014.2 1080.9,1013.5 1082.0,1012.8 1083.1,1012.2 1084.1,1011.5 1085.2,1010.8 1086.2,1010.1 1087.3,1009.4 1088.4,1008.6 1089.4,1007.9 1090.5,1007.2 1091.6,1006.4 1092.6,1005.7 1093.7,1004.9 1094.7,1004.2 1095.8,1003.4 1096.9,1002.6 1097.9,1001.8 1099.0,1001.0 1100.0,1000.2 1101.1,999.4 1102.2,998.6 1103.2,997.7 1104.3,996.9 1105.4,996.0 1106.4,995.2 1107.5,994.3 1108.5,993.4 1109.6,992.5 1110.7,991.6 1111.7,990.7 1112.8,989.8 1113.9,988.9 1114.9,988.0 1116.0,987.0 1117.0,986.1 1118.1,985.1 1119.2,984.1 1120.2,983.2 1121.3,982.2 1122.4,981.2 1123.4,980.2 1124.5,979.2 1125.5,978.1 1126.6,977.1 1127.7,976.1 1128.7,975.0 1129.8,973.9 1130.9,972.9 1131.9,971.8 1133.0,970.7 1134.0,969.6 1135.1,968.5 1136.2,967.4 1137.2,966.2 1138.3,965.1 1139.3,964.0 1140.4,962.8 1141.5,961.6 1142.5,960.5 1143.6,959.3 1144.7,958.1 1145.7,956.9 1146.8,955.7 1147.8,954.4 1148.9,953.2 1150.0,952.0 1151.0,950.7 1152.1,949.4 1153.2,948.2 1154.2,946.9 1155.3,945.6 1156.3,944.3 1157.4,943.0 1158.5,941.7 1159.5,940.4 1160.6,939.0 1161.7,937.7 1162.7,936.3 1163.8,935.0 1164.8,933.6 1165.9,932.3 1167.0,930.9 1168.0,929.5 1169.1,928.1 1170.1,926.7 1171.2,925.3 1172.3,923.9 1173.3,922.4 1174.4,921.0 1175.5,919.6 1176.5,918.1 1177.6,916.7 1178.6,915.2 1179.7,913.8 1180.8,912.3 1181.8,910.8 1182.9,909.3 1184.0,907.9 1185.0,906.4 1186.1,904.9 1187.1,903.4 1188.2,901.9 1189.3,900.4 1190.3,898.9 1191.4,897.4 1192.5,895.8 1193.5,894.3 1194.6,892.8 1195.6,891.3 1196.7,889.8 1197.8,888.3 1198.8,886.8 1199.9,885.2 1201.0,883.7 1202.0,882.2 1203.1,880.7 1204.1,879.2 1205.2,877.7 1206.3,876.2 1207.3,874.7 1208.4,873.2 1209.4,871.7 1210.5,870.2 1211.6,868.7 1212.6,867.3 1213.7,865.8 1214.8,864.4 1215.8,862.9 1216.9,861.5 1217.9,860.1 1219.0,858.7 1220.1,857.3 1221.1,855.9 1222.2,854.5 1223.3,853.1 1224.3,851.8 1225.4,850.5 1226.4,849.2 1227.5,847.9 1228.6,846.6 1229.6,845.4 1230.7,844.2 1231.8,843.0 1232.8,841.8 1233.9,840.7 1234.9,839.5 1236.0,838.4 1237.1,837.4 1238.1,836.4 1239.2,835.4 1240.2,834.4 1241.3,833.4 1242.4,832.6 1243.4,831.7 1244.5,830.9 1245.6,830.1 1246.6,829.3 1247.7,828.6 1248.7,828.0 1249.8,827.4 1250.9,826.8 1251.9,826.3 1253.0,825.8 1254.1,825.4 1255.1,825.0 1256.2,824.7 1257.2,824.5 1258.3,824.3 1259.4,824.1 1260.4,824.0 1261.5,824.0 1262.6,824.1 1263.6,824.2 1264.7,824.3 1265.7,824.6 1266.8,824.9 1267.9,825.2 1268.9,825.7 1270.0,826.2 1271.1,826.7 1272.1,827.4 1273.2,828.1 1274.2,828.9 1275.3,829.7 1276.4,830.6 1277.4,831.6 1278.5,832.7 1279.5,833.8 1280.6,835.1 1281.7,836.3 1282.7,837.7 1283.8,839.1 1284.9,840.6 1285.9,842.2 1287.0,843.8 1288.0,845.5 1289.1,847.2 1290.2,849.0 1291.2,850.9 1292.3,852.9 1293.4,854.8 1294.4,856.9 1295.5,859.0 1296.5,861.1 1297.6,863.3 1298.7,865.6 1299.7,867.8 1300.8,870.2 1301.9,872.5 1302.9,874.9 1304.0,877.3 1305.0,879.7 1306.1,882.2 1307.2,884.6 1308.2,887.1 1309.3,889.6 1310.3,892.1 1311.4,894.6 1312.5,897.1 1313.5,899.6 1314.6,902.1 1315.7,904.6 1316.7,907.1 1317.8,909.6 1318.8,912.0 1319.9,914.4 1321.0,916.8 1322.0,919.1 1323.1,921.5 1324.2,923.7 1325.2,926.0 1326.3,928.2 1327.3,930.4 1328.4,932.5 1329.5,934.6 1330.5,936.6 1331.6,938.6 1332.7,940.5 1333.7,942.4 1334.8,944.2 1335.8,946.0 1336.9,947.7 1338.0,949.3 1339.0,950.9 1340.1,952.5 1341.2,954.0 1342.2,955.4 1343.3,956.8 1344.3,958.1 1345.4,959.3 1346.5,960.5 1347.5,961.7 1348.6,962.8 1349.6,963.8 1350.7,964.8 1351.8,965.7 1352.8,966.5 1353.9,967.3 1355.0,968.1 1356.0,968.8 1357.1,969.5 1358.1,970.1 1359.2,970.6 1360.3,971.1 1361.3,971.6 1362.4,972.0 1363.5,972.4 1364.5,972.8 1365.6,973.0 1366.6,973.3 1367.7,973.5 1368.8,973.7 1369.8,973.8 1370.9,973.9 1372.0,974.0 1373.0,974.1 1374.1,974.1 1375.1,974.0 1376.2,974.0 1377.3,973.9 1378.3,973.8 1379.4,973.7 1380.4,973.5 1381.5,973.3 1382.6,973.1 1383.6,972.9 1384.7,972.7 1385.8,972.4 1386.8,972.1 1387.9,971.8 1388.9,971.5 1390.0,971.1 1391.1,970.8 1392.1,970.4 1393.2,970.0 1394.3,969.7 1395.3,969.2 1396.4,968.8 1397.4,968.4 1398.5,968.0 1399.6,967.5 1400.6,967.1 1401.7,966.6 1402.8,966.1 1403.8,965.6 1404.9,965.2 1405.9,964.7 1407.0,964.2 1408.1,963.7 1409.1,963.1 1410.2,962.6 1411.3,962.1 1412.3,961.6 1413.4,961.1 1414.4,960.6 1415.5,960.0 1416.6,959.5 1417.6,959.0 1418.7,958.4 1419.7,957.9 1420.8,957.4 1421.9,956.8 1422.9,956.3 1424.0,955.8 1425.1,955.2 1426.1,954.7 1427.2,954.2 1428.2,953.6 1429.3,953.1 1430.4,952.6 1431.4,952.0 1432.5,951.5 1433.6,951.0 1434.6,950.5 1435.7,950.0 1436.7,949.4 1437.8,948.9 1438.9,948.4 1439.9,947.9 1441.0,947.4 1442.1,946.9 1443.1,946.4 1444.2,945.9 1445.2,945.4 1446.3,944.9 1447.4,944.4 1448.4,944.0 1449.5,943.5 1450.5,943.0 1451.6,942.5 1452.7,942.1 1453.7,941.6 1454.8,941.1 1455.9,940.7 1456.9,940.2 1458.0,939.8 1459.0,939.3 1460.1,938.9 1461.2,938.5 1462.2,938.0 1463.3,937.6 1464.4,937.2 1465.4,936.7 1466.5,936.3 1467.5,935.9 1468.6,935.5 1469.7,935.1 1470.7,934.7 1471.8,934.3 1472.9,933.9 1473.9,933.5 1475.0,933.1 1476.0,932.8 1477.1,932.4 1478.2,932.0 1479.2,931.6 1480.3,931.3 1481.4,930.9 1482.4,930.5 1483.5,930.2 1484.5,929.8 1485.6,929.5" fill="none" stroke="#000" stroke-width="4.6"/>
<path d="M1560.8,1072.2 L1561.8,1072.2 1562.9,1072.3 1563.9,1072.4 1564.9,1072.4 1566.0,1072.5 1567.0,1072.5 1568.0,1072.6 1569.1,1072.7 1570.1,1072.7 1571.1,1072.8 1572.2,1072.9 1573.2,1072.9 1574.2,1073.0 1575.3,1073.1 1576.3,1073.1 1577.3,1073.2 1578.4,1073.3 1579.4,1073.3 1580.4,1073.4 1581.5,1073.5 1582.5,1073.6 1583.5,1073.6 1584.6,1073.7 1585.6,1073.8 1586.6,1073.9 1587.6,1073.9 1588.7,1074.0 1589.7,1074.1 1590.7,1074.2 1591.8,1074.3 1592.8,1074.4 1593.8,1074.4 1594.9,1074.5 1595.9,1074.6 1596.9,1074.7 1598.0,1074.8 1599.0,1074.9 1600.0,1075.0 1601.1,1075.1 1602.1,1075.2 1603.1,1075.3 1604.2,1075.4 1605.2,1075.5 1606.2,1075.6 1607.3,1075.7 1608.3,1075.8 1609.3,1075.9 1610.4,1076.0 1611.4,1076.1 1612.4,1076.2 1613.5,1076.3 1614.5,1076.4 1615.5,1076.5 1616.6,1076.7 1617.6,1076.8 1618.6,1076.9 1619.7,1077.0 1620.7,1077.1 1621.7,1077.2 1622.8,1077.4 1623.8,1077.5 1624.8,1077.6 1625.9,1077.8 1626.9,1077.9 1627.9,1078.0 1629.0,1078.2 1630.0,1078.3 1631.0,1078.4 1632.1,1078.6 1633.1,1078.7 1634.1,1078.8 1635.2,1079.0 1636.2,1079.1 1637.2,1079.3 1638.2,1079.4 1639.3,1079.6 1640.3,1079.7 1641.3,1079.9 1642.4,1080.0 1643.4,1080.2 1644.4,1080.4 1645.5,1080.5 1646.5,1080.7 1647.5,1080.9 1648.6,1081.0 1649.6,1081.2 1650.6,1081.4 1651.7,1081.5 1652.7,1081.7 1653.7,1081.9 1654.8,1082.1 1655.8,1082.3 1656.8,1082.5 1657.9,1082.6 1658.9,1082.8 1659.9,1083.0 1661.0,1083.2 1662.0,1083.4 1663.0,1083.6 1664.1,1083.8 1665.1,1084.0 1666.1,1084.2 1667.2,1084.4 1668.2,1084.6 1669.2,1084.8 1670.3,1085.1 1671.3,1085.3 1672.3,1085.5 1673.4,1085.7 1674.4,1085.9 1675.4,1086.2 1676.5,1086.4 1677.5,1086.6 1678.5,1086.9 1679.6,1087.1 1680.6,1087.3 1681.6,1087.6 1682.7,1087.8 1683.7,1088.0 1684.7,1088.3 1685.8,1088.5 1686.8,1088.8 1687.8,1089.0 1688.9,1089.3 1689.9,1089.6 1690.9,1089.8 1691.9,1090.1 1693.0,1090.3 1694.0,1090.6 1695.0,1090.9 1696.1,1091.1 1697.1,1091.4 1698.1,1091.7 1699.2,1092.0 1700.2,1092.2 1701.2,1092.5 1702.3,1092.8 1703.3,1093.1 1704.3,1093.4 1705.4,1093.7 1706.4,1093.9 1707.4,1094.2 1708.5,1094.5 1709.5,1094.8 1710.5,1095.1 1711.6,1095.4 1712.6,1095.7 1713.6,1096.0 1714.7,1096.3 1715.7,1096.6 1716.7,1096.9 1717.8,1097.2 1718.8,1097.5 1719.8,1097.8 1720.9,1098.1 1721.9,1098.4 1722.9,1098.7 1724.0,1099.0 1725.0,1099.3 1726.0,1099.6 1727.1,1099.9 1728.1,1100.2 1729.1,1100.5 1730.2,1100.8 1731.2,1101.1 1732.2,1101.3 1733.3,1101.6 1734.3,1101.9 1735.3,1102.2 1736.4,1102.5 1737.4,1102.8 1738.4,1103.0 1739.5,1103.3 1740.5,1103.6 1741.5,1103.8 1742.5,1104.1 1743.6,1104.3 1744.6,1104.5 1745.6,1104.8 1746.7,1105.0 1747.7,1105.2 1748.7,1105.4 1749.8,1105.6 1750.8,1105.8 1751.8,1106.0 1752.9,1106.2 1753.9,1106.4 1754.9,1106.5 1756.0,1106.7 1757.0,1106.8 1758.0,1106.9 1759.1,1107.0 1760.1,1107.1 1761.1,1107.2 1762.2,1107.2 1763.2,1107.2 1764.2,1107.3 1765.3,1107.3 1766.3,1107.2 1767.3,1107.2 1768.4,1107.1 1769.4,1107.0 1770.4,1106.9 1771.5,1106.8 1772.5,1106.6 1773.5,1106.5 1774.6,1106.2 1775.6,1106.0 1776.6,1105.7 1777.7,1105.4 1778.7,1105.1 1779.7,1104.7 1780.8,1104.3 1781.8,1103.8 1782.8,1103.3 1783.9,1102.8 1784.9,1102.2 1785.9,1101.6 1787.0,1100.9 1788.0,1100.2 1789.0,1099.5 1790.1,1098.6 1791.1,1097.8 1792.1,1096.9 1793.1,1095.9 1794.2,1094.9 1795.2,1093.8 1796.2,1092.6 1797.3,1091.4 1798.3,1090.2 1799.3,1088.8 1800.4,1087.4 1801.4,1085.9 1802.4,1084.4 1803.5,1082.8 1804.5,1081.1 1805.5,1079.3 1806.6,1077.5 1807.6,1075.5 1808.6,1073.5 1809.7,1071.5 1810.7,1069.3 1811.7,1067.0 1812.8,1064.7 1813.8,1062.3 1814.8,1059.8 1815.9,1057.2 1816.9,1054.5 1817.9,1051.7 1819.0,1048.8 1820.0,1045.9 1821.0,1042.8 1822.1,1039.7 1823.1,1036.5 1824.1,1033.2 1825.2,1029.8 1826.2,1026.3 1827.2,1022.7 1828.3,1019.1 1829.3,1015.3 1830.3,1011.5 1831.4,1007.6 1832.4,1003.6 1833.4,999.6 1834.5,995.4 1835.5,991.2 1836.5,986.9 1837.6,982.6 1838.6,978.2 1839.6,973.8 1840.7,969.3 1841.7,964.7 1842.7,960.1 1843.8,955.5 1844.8,950.8 1845.8,946.1 1846.8,941.3 1847.9,936.6 1848.9,931.8 1849.9,927.0 1851.0,922.2 1852.0,917.4 1853.0,912.6 1854.1,907.8 1855.1,903.0 1856.1,898.3 1857.2,893.6 1858.2,888.9 1859.2,884.2 1860.3,879.5 1861.3,875.0 1862.3,870.4 1863.4,865.9 1864.4,861.5 1865.4,857.1 1866.5,852.8 1867.5,848.6 1868.5,844.4 1869.6,840.3 1870.6,836.3 1871.6,832.3 1872.7,828.5 1873.7,824.7 1874.7,821.0 1875.8,817.5 1876.8,814.0 1877.8,810.6 1878.9,807.3 1879.9,804.1 1880.9,800.9 1882.0,797.9 1883.0,795.0 1884.0,792.2 1885.1,789.5 1886.1,786.9 1887.1,784.4 1888.2,782.0 1889.2,779.7 1890.2,777.4 1891.3,775.3 1892.3,773.3 1893.3,771.4 1894.4,769.5 1895.4,767.8 1896.4,766.2 1897.4,764.6 1898.5,763.1 1899.5,761.7 1900.5,760.5 1901.6,759.2 1902.6,758.1 1903.6,757.1 1904.7,756.1 1905.7,755.2 1906.7,754.4 1907.8,753.7 1908.8,753.0 1909.8,752.4 1910.9,751.8 1911.9,751.4 1912.9,751.0 1914.0,750.6 1915.0,750.3 1916.0,750.1 1917.1,750.0 1918.1,749.8 1919.1,749.8 1920.2,749.8 1921.2,749.8 1922.2,749.9 1923.3,750.0 1924.3,750.2 1925.3,750.4 1926.4,750.7 1927.4,751.0 1928.4,751.4 1929.5,751.7 1930.5,752.1 1931.5,752.6 1932.6,753.1 1933.6,753.6 1934.6,754.1 1935.7,754.7 1936.7,755.3 1937.7,755.9 1938.8,756.5 1939.8,757.2 1940.8,757.9 1941.9,758.6 1942.9,759.4 1943.9,760.1 1945.0,760.9 1946.0,761.7 1947.0,762.5 1948.0,763.3 1949.1,764.1 1950.1,765.0 1951.1,765.8 1952.2,766.7 1953.2,767.6 1954.2,768.5 1955.3,769.4 1956.3,770.3 1957.3,771.2 1958.4,772.2 1959.4,773.1 1960.4,774.1 1961.5,775.0 1962.5,776.0 1963.5,777.0 1964.6,777.9 1965.6,778.9 1966.6,779.9 1967.7,780.9 1968.7,781.8 1969.7,782.8 1970.8,783.8 1971.8,784.8 1972.8,785.8 1973.9,786.8 1974.9,787.8 1975.9,788.8 1977.0,789.8 1978.0,790.8 1979.0,791.7 1980.1,792.7 1981.1,793.7 1982.1,794.7 1983.2,795.7 1984.2,796.7 1985.2,797.6 1986.3,798.6 1987.3,799.6 1988.3,800.6 1989.4,801.5 1990.4,802.5 1991.4,803.5 1992.5,804.4 1993.5,805.4 1994.5,806.3 1995.6,807.3 1996.6,808.2 1997.6,809.1 1998.7,810.1 1999.7,811.0 2000.7,811.9 2001.7,812.8 2002.8,813.7 2003.8,814.6 2004.8,815.5 2005.9,816.4 2006.9,817.3 2007.9,818.2 2009.0,819.1 2010.0,819.9 2011.0,820.8 2012.1,821.7 2013.1,822.5 2014.1,823.4 2015.2,824.2 2016.2,825.0 2017.2,825.9 2018.3,826.7 2019.3,827.5 2020.3,828.3 2021.4,829.1 2022.4,829.9 2023.4,830.7 2024.5,831.5 2025.5,832.3 2026.5,833.0 2027.6,833.8 2028.6,834.5 2029.6,835.3 2030.7,836.0 2031.7,836.8 2032.7,837.5 2033.8,838.2 2034.8,839.0 2035.8,839.7 2036.9,840.4 2037.9,841.1 2038.9,841.8 2040.0,842.4 2041.0,843.1 2042.0,843.8 2043.1,844.5 2044.1,845.1 2045.1,845.8 2046.2,846.4 2047.2,847.1 2048.2,847.7 2049.3,848.3 2050.3,849.0 2051.3,849.6 2052.3,850.2 2053.4,850.8 2054.4,851.4 2055.4,852.0 2056.5,852.6 2057.5,853.2 2058.5,853.7 2059.6,854.3 2060.6,854.9 2061.6,855.4 2062.7,856.0 2063.7,856.5 2064.7,857.1 2065.8,857.6 2066.8,858.1 2067.8,858.6 2068.9,859.2 2069.9,859.7 2070.9,860.2 2072.0,860.7 2073.0,861.2 2074.0,861.7 2075.1,862.1 2076.1,862.6" fill="none" stroke="#000" stroke-width="4.6"/>
<path d="M378.8,1669.3 L379.9,1669.3 380.9,1669.3 382.0,1669.3 383.1,1669.3 384.2,1669.3 385.2,1669.3 386.3,1669.3 387.4,1669.3 388.4,1669.3 389.5,1669.3 390.6,1669.3 391.7,1669.3 392.7,1669.3 393.8,1669.3 394.9,1669.3 395.9,1669.3 397.0,1669.3 398.1,1669.3 399.2,1669.3 400.2,1669.3 401.3,1669.3 402.4,1669.3 403.4,1669.3 404.5,1669.3 405.6,1669.3 406.6,1669.3 407.7,1669.3 408.8,1669.3 409.9,1669.3 410.9,1669.3 412.0,1669.3 413.1,1669.3 414.1,1669.3 415.2,1669.3 416.3,1669.3 417.4,1669.3 418.4,1669.2 419.5,1669.2 420.6,1669.2 421.6,1669.2 422.7,1669.2 423.8,1669.2 424.9,1669.2 425.9,1669.2 427.0,1669.2 428.1,1669.2 429.1,1669.2 430.2,1669.2 431.3,1669.2 432.4,1669.2 433.4,1669.2 434.5,1669.2 435.6,1669.2 436.6,1669.2 437.7,1669.2 438.8,1669.2 439.9,1669.2 440.9,1669.2 442.0,1669.1 443.1,1669.1 444.1,1669.1 445.2,1669.1 446.3,1669.1 447.4,1669.1 448.4,1669.1 449.5,1669.1 450.6,1669.1 451.6,1669.1 452.7,1669.1 453.8,1669.1 454.9,1669.1 455.9,1669.1 457.0,1669.0 458.1,1669.0 459.1,1669.0 460.2,1669.0 461.3,1669.0 462.3,1669.0 463.4,1669.0 464.5,1669.0 465.6,1669.0 466.6,1669.0 467.7,1668.9 468.8,1668.9 469.8,1668.9 470.9,1668.9 472.0,1668.9 473.1,1668.9 474.1,1668.9 475.2,1668.9 476.3,1668.8 477.3,1668.8 478.4,1668.8 479.5,1668.8 480.6,1668.8 481.6,1668.8 482.7,1668.7 483.8,1668.7 484.8,1668.7 485.9,1668.7 487.0,1668.7 488.1,1668.6 489.1,1668.6 490.2,1668.6 491.3,1668.6 492.3,1668.6 493.4,1668.5 494.5,1668.5 495.6,1668.5 496.6,1668.5 497.7,1668.4 498.8,1668.4 499.8,1668.4 500.9,1668.4 502.0,1668.3 503.1,1668.3 504.1,1668.3 505.2,1668.2 506.3,1668.2 507.3,1668.2 508.4,1668.1 509.5,1668.1 510.6,1668.1 511.6,1668.0 512.7,1668.0 513.8,1668.0 514.8,1667.9 515.9,1667.9 517.0,1667.8 518.0,1667.8 519.1,1667.8 520.2,1667.7 521.3,1667.7 522.3,1667.6 523.4,1667.6 524.5,1667.5 525.5,1667.5 526.6,1667.4 527.7,1667.4 528.8,1667.3 529.8,1667.2 530.9,1667.2 532.0,1667.1 533.0,1667.1 534.1,1667.0 535.2,1666.9 536.3,1666.9 537.3,1666.8 538.4,1666.7 539.5,1666.6 540.5,1666.6 541.6,1666.5 542.7,1666.4 543.8,1666.3 544.8,1666.2 545.9,1666.1 547.0,1666.0 548.0,1666.0 549.1,1665.9 550.2,1665.8 551.3,1665.7 552.3,1665.5 553.4,1665.4 554.5,1665.3 555.5,1665.2 556.6,1665.1 557.7,1665.0 558.8,1664.8 559.8,1664.7 560.9,1664.6 562.0,1664.5 563.0,1664.3 564.1,1664.2 565.2,1664.0 566.2,1663.9 567.3,1663.7 568.4,1663.5 569.5,1663.4 570.5,1663.2 571.6,1663.0 572.7,1662.9 573.7,1662.7 574.8,1662.5 575.9,1662.3 577.0,1662.1 578.0,1661.9 579.1,1661.6 580.2,1661.4 581.2,1661.2 582.3,1661.0 583.4,1660.7 584.5,1660.5 585.5,1660.2 586.6,1659.9 587.7,1659.7 588.7,1659.4 589.8,1659.1 590.9,1658.8 592.0,1658.5 593.0,1658.2 594.1,1657.8 595.2,1657.5 596.2,1657.2 597.3,1656.8 598.4,1656.4 599.5,1656.0 600.5,1655.6 601.6,1655.2 602.7,1654.8 603.7,1654.4 604.8,1653.9 605.9,1653.5 607.0,1653.0 608.0,1652.5 609.1,1652.0 610.2,1651.5 611.2,1650.9 612.3,1650.4 613.4,1649.8 614.5,1649.2 615.5,1648.6 616.6,1647.9 617.7,1647.3 618.7,1646.6 619.8,1645.9 620.9,1645.1 621.9,1644.3 623.0,1643.5 624.1,1642.7 625.2,1641.9 626.2,1641.0 627.3,1640.0 628.4,1639.1 629.4,1638.1 630.5,1637.0 631.6,1635.9 632.7,1634.8 633.7,1633.6 634.8,1632.4 635.9,1631.1 636.9,1629.7 638.0,1628.3 639.1,1626.8 640.2,1625.2 641.2,1623.5 642.3,1621.8 643.4,1619.9 644.4,1618.0 645.5,1615.9 646.6,1613.8 647.7,1611.5 648.7,1609.0 649.8,1606.4 650.9,1603.6 651.9,1600.7 653.0,1597.5 654.1,1594.2 655.2,1590.6 656.2,1586.8 657.3,1582.8 658.4,1578.5 659.4,1574.0 660.5,1569.2 661.6,1564.1 662.7,1558.7 663.7,1553.1 664.8,1547.2 665.9,1541.1 666.9,1534.7 668.0,1528.1 669.1,1521.3 670.2,1514.3 671.2,1507.2 672.3,1499.8 673.4,1492.4 674.4,1484.8 675.5,1477.2 676.6,1469.5 677.6,1461.8 678.7,1454.0 679.8,1446.3 680.9,1438.6 681.9,1431.0 683.0,1423.4 684.1,1415.9 685.1,1408.6 686.2,1401.4 687.3,1394.4 688.4,1387.7 689.4,1381.1 690.5,1374.8 691.6,1368.8 692.6,1363.1 693.7,1357.7 694.8,1352.6 695.9,1347.9 696.9,1343.5 698.0,1339.5 699.1,1335.8 700.1,1332.5 701.2,1329.5 702.3,1326.8 703.4,1324.3 704.4,1322.2 705.5,1320.3 706.6,1318.6 707.6,1317.1 708.7,1315.8 709.8,1314.7 710.9,1313.7 711.9,1312.8 713.0,1312.0 714.1,1311.4 715.1,1310.8 716.2,1310.3 717.3,1309.8 718.4,1309.5 719.4,1309.1 720.5,1308.9 721.6,1308.7 722.6,1308.5 723.7,1308.3 724.8,1308.2 725.9,1308.1 726.9,1308.1 728.0,1308.1 729.1,1308.1 730.1,1308.1 731.2,1308.2 732.3,1308.3 733.3,1308.4 734.4,1308.5 735.5,1308.7 736.6,1308.9 737.6,1309.2 738.7,1309.5 739.8,1309.8 740.8,1310.2 741.9,1310.6 743.0,1311.0 744.1,1311.5 745.1,1312.1 746.2,1312.7 747.3,1313.4 748.3,1314.2 749.4,1315.0 750.5,1316.0 751.6,1317.0 752.6,1318.1 753.7,1319.3 754.8,1320.5 755.8,1321.9 756.9,1323.4 758.0,1325.1 759.1,1326.8 760.1,1328.6 761.2,1330.6 762.3,1332.7 763.3,1334.9 764.4,1337.2 765.5,1339.6 766.6,1342.2 767.6,1344.8 768.7,1347.5 769.8,1350.4 770.8,1353.3 771.9,1356.3 773.0,1359.4 774.1,1362.5 775.1,1365.7 776.2,1368.9 777.3,1372.2 778.3,1375.5 779.4,1378.9 780.5,1382.2 781.5,1385.6 782.6,1389.0 783.7,1392.4 784.8,1395.8 785.8,1399.2 786.9,1402.5 788.0,1405.9 789.0,1409.2 790.1,1412.5 791.2,1415.8 792.3,1419.0 793.3,1422.2 794.4,1425.4 795.5,1428.5 796.5,1431.6 797.6,1434.7 798.7,1437.7 799.8,1440.6 800.8,1443.5 801.9,1446.4 803.0,1449.2 804.0,1451.9 805.1,1454.6 806.2,1457.3 807.3,1459.9 808.3,1462.5 809.4,1464.9 810.5,1467.4 811.5,1469.8 812.6,1472.1 813.7,1474.4 814.8,1476.7 815.8,1478.8 816.9,1481.0 818.0,1483.1 819.0,1485.1 820.1,1487.1 821.2,1489.0 822.3,1490.9 823.3,1492.8 824.4,1494.6 825.5,1496.3 826.5,1498.1 827.6,1499.7 828.7,1501.3 829.8,1502.9 830.8,1504.5 831.9,1506.0 833.0,1507.4 834.0,1508.9 835.1,1510.2 836.2,1511.6 837.2,1512.9 838.3,1514.2 839.4,1515.4 840.5,1516.6 841.5,1517.8 842.6,1518.9 843.7,1520.0 844.7,1521.1 845.8,1522.2 846.9,1523.2 848.0,1524.2 849.0,1525.1 850.1,1526.1 851.2,1527.0 852.2,1527.9 853.3,1528.7 854.4,1529.6 855.5,1530.4 856.5,1531.2 857.6,1531.9 858.7,1532.7 859.7,1533.4 860.8,1534.1 861.9,1534.8 863.0,1535.4 864.0,1536.1 865.1,1536.7 866.2,1537.3 867.2,1537.9 868.3,1538.5 869.4,1539.0 870.5,1539.6 871.5,1540.1 872.6,1540.6 873.7,1541.1 874.7,1541.6 875.8,1542.1 876.9,1542.5 878.0,1543.0 879.0,1543.4 880.1,1543.8 881.2,1544.2 882.2,1544.6 883.3,1545.0 884.4,1545.4 885.5,1545.7 886.5,1546.1 887.6,1546.4 888.7,1546.8 889.7,1547.1 890.8,1547.4 891.9,1547.7 892.9,1548.0 894.0,1548.3 895.1,1548.6 896.2,1548.9 897.2,1549.1 898.3,1549.4 899.4,1549.6 900.4,1549.9 901.5,1550.1 902.6,1550.3 903.7,1550.6 904.7,1550.8 905.8,1551.0 906.9,1551.2 907.9,1551.4 909.0,1551.6 910.1,1551.8 911.2,1552.0 912.2,1552.1 913.3,1552.3" fill="none" stroke="#000" stroke-width="4.6"/>
<path d="M956.5,1670.7 L957.6,1670.6 958.7,1670.6 959.8,1670.5 960.9,1670.5 962.0,1670.5 963.1,1670.4 964.2,1670.4 965.2,1670.3 966.3,1670.3 967.4,1670.3 968.5,1670.2 969.6,1670.2 970.7,1670.1 971.8,1670.1 972.9,1670.0 974.0,1670.0 975.1,1669.9 976.2,1669.9 977.3,1669.8 978.4,1669.8 979.5,1669.7 980.5,1669.7 981.6,1669.6 982.7,1669.6 983.8,1669.5 984.9,1669.5 986.0,1669.4 987.1,1669.4 988.2,1669.3 989.3,1669.2 990.4,1669.2 991.5,1669.1 992.6,1669.1 993.7,1669.0 994.8,1668.9 995.8,1668.9 996.9,1668.8 998.0,1668.7 999.1,1668.7 1000.2,1668.6 1001.3,1668.5 1002.4,1668.5 1003.5,1668.4 1004.6,1668.3 1005.7,1668.3 1006.8,1668.2 1007.9,1668.1 1009.0,1668.0 1010.1,1668.0 1011.1,1667.9 1012.2,1667.8 1013.3,1667.7 1014.4,1667.6 1015.5,1667.6 1016.6,1667.5 1017.7,1667.4 1018.8,1667.3 1019.9,1667.2 1021.0,1667.1 1022.1,1667.0 1023.2,1667.0 1024.3,1666.9 1025.4,1666.8 1026.5,1666.7 1027.5,1666.6 1028.6,1666.5 1029.7,1666.4 1030.8,1666.3 1031.9,1666.2 1033.0,1666.1 1034.1,1666.0 1035.2,1665.9 1036.3,1665.7 1037.4,1665.6 1038.5,1665.5 1039.6,1665.4 1040.7,1665.3 1041.8,1665.2 1042.8,1665.0 1043.9,1664.9 1045.0,1664.8 1046.1,1664.7 1047.2,1664.5 1048.3,1664.4 1049.4,1664.3 1050.5,1664.2 1051.6,1664.0 1052.7,1663.9 1053.8,1663.7 1054.9,1663.6 1056.0,1663.5 1057.1,1663.3 1058.1,1663.2 1059.2,1663.0 1060.3,1662.8 1061.4,1662.7 1062.5,1662.5 1063.6,1662.4 1064.7,1662.2 1065.8,1662.0 1066.9,1661.9 1068.0,1661.7 1069.1,1661.5 1070.2,1661.3 1071.3,1661.2 1072.4,1661.0 1073.4,1660.8 1074.5,1660.6 1075.6,1660.4 1076.7,1660.2 1077.8,1660.0 1078.9,1659.8 1080.0,1659.6 1081.1,1659.4 1082.2,1659.2 1083.3,1658.9 1084.4,1658.7 1085.5,1658.5 1086.6,1658.3 1087.7,1658.0 1088.8,1657.8 1089.8,1657.6 1090.9,1657.3 1092.0,1657.1 1093.1,1656.8 1094.2,1656.5 1095.3,1656.3 1096.4,1656.0 1097.5,1655.7 1098.6,1655.5 1099.7,1655.2 1100.8,1654.9 1101.9,1654.6 1103.0,1654.3 1104.1,1654.0 1105.1,1653.7 1106.2,1653.3 1107.3,1653.0 1108.4,1652.7 1109.5,1652.4 1110.6,1652.0 1111.7,1651.7 1112.8,1651.3 1113.9,1650.9 1115.0,1650.6 1116.1,1650.2 1117.2,1649.8 1118.3,1649.4 1119.4,1649.0 1120.4,1648.6 1121.5,1648.2 1122.6,1647.8 1123.7,1647.3 1124.8,1646.9 1125.9,1646.4 1127.0,1646.0 1128.1,1645.5 1129.2,1645.0 1130.3,1644.5 1131.4,1644.0 1132.5,1643.5 1133.6,1642.9 1134.7,1642.4 1135.7,1641.8 1136.8,1641.3 1137.9,1640.7 1139.0,1640.1 1140.1,1639.5 1141.2,1638.8 1142.3,1638.2 1143.4,1637.5 1144.5,1636.9 1145.6,1636.2 1146.7,1635.4 1147.8,1634.7 1148.9,1634.0 1150.0,1633.2 1151.1,1632.4 1152.1,1631.6 1153.2,1630.7 1154.3,1629.8 1155.4,1628.9 1156.5,1628.0 1157.6,1627.1 1158.7,1626.1 1159.8,1625.1 1160.9,1624.0 1162.0,1622.9 1163.1,1621.8 1164.2,1620.7 1165.3,1619.5 1166.4,1618.2 1167.4,1616.9 1168.5,1615.6 1169.6,1614.2 1170.7,1612.8 1171.8,1611.3 1172.9,1609.8 1174.0,1608.1 1175.1,1606.5 1176.2,1604.7 1177.3,1602.9 1178.4,1601.1 1179.5,1599.1 1180.6,1597.1 1181.7,1595.0 1182.7,1592.8 1183.8,1590.5 1184.9,1588.1 1186.0,1585.6 1187.1,1583.1 1188.2,1580.4 1189.3,1577.6 1190.4,1574.7 1191.5,1571.8 1192.6,1568.7 1193.7,1565.4 1194.8,1562.1 1195.9,1558.7 1197.0,1555.1 1198.0,1551.5 1199.1,1547.7 1200.2,1543.8 1201.3,1539.8 1202.4,1535.7 1203.5,1531.5 1204.6,1527.3 1205.7,1522.9 1206.8,1518.4 1207.9,1513.8 1209.0,1509.2 1210.1,1504.4 1211.2,1499.6 1212.3,1494.8 1213.4,1489.9 1214.4,1484.9 1215.5,1479.9 1216.6,1474.8 1217.7,1469.7 1218.8,1464.6 1219.9,1459.4 1221.0,1454.2 1222.1,1449.1 1223.2,1443.9 1224.3,1438.7 1225.4,1433.6 1226.5,1428.4 1227.6,1423.4 1228.7,1418.3 1229.7,1413.3 1230.8,1408.3 1231.9,1403.4 1233.0,1398.6 1234.1,1393.9 1235.2,1389.3 1236.3,1384.8 1237.4,1380.4 1238.5,1376.1 1239.6,1371.9 1240.7,1367.9 1241.8,1364.0 1242.9,1360.3 1244.0,1356.8 1245.0,1353.4 1246.1,1350.2 1247.2,1347.1 1248.3,1344.3 1249.4,1341.6 1250.5,1339.1 1251.6,1336.7 1252.7,1334.5 1253.8,1332.5 1254.9,1330.7 1256.0,1329.0 1257.1,1327.4 1258.2,1326.0 1259.3,1324.8 1260.4,1323.6 1261.4,1322.6 1262.5,1321.8 1263.6,1321.0 1264.7,1320.3 1265.8,1319.8 1266.9,1319.4 1268.0,1319.0 1269.1,1318.8 1270.2,1318.6 1271.3,1318.6 1272.4,1318.7 1273.5,1318.8 1274.6,1319.1 1275.7,1319.5 1276.7,1320.0 1277.8,1320.7 1278.9,1321.5 1280.0,1322.4 1281.1,1323.5 1282.2,1324.8 1283.3,1326.2 1284.4,1327.9 1285.5,1329.8 1286.6,1332.0 1287.7,1334.4 1288.8,1337.1 1289.9,1340.1 1291.0,1343.4 1292.0,1347.1 1293.1,1351.1 1294.2,1355.4 1295.3,1360.1 1296.4,1365.2 1297.5,1370.6 1298.6,1376.3 1299.7,1382.4 1300.8,1388.8 1301.9,1395.4 1303.0,1402.4 1304.1,1409.6 1305.2,1417.0 1306.3,1424.6 1307.3,1432.3 1308.4,1440.2 1309.5,1448.2 1310.6,1456.2 1311.7,1464.3 1312.8,1472.5 1313.9,1480.5 1315.0,1488.6 1316.1,1496.5 1317.2,1504.3 1318.3,1512.0 1319.4,1519.5 1320.5,1526.8 1321.6,1533.8 1322.7,1540.6 1323.7,1547.2 1324.8,1553.4 1325.9,1559.3 1327.0,1564.9 1328.1,1570.2 1329.2,1575.2 1330.3,1579.8 1331.4,1584.2 1332.5,1588.3 1333.6,1592.1 1334.7,1595.6 1335.8,1599.0 1336.9,1602.0 1338.0,1604.9 1339.0,1607.5 1340.1,1610.0 1341.2,1612.3 1342.3,1614.5 1343.4,1616.5 1344.5,1618.3 1345.6,1620.1 1346.7,1621.7 1347.8,1623.2 1348.9,1624.7 1350.0,1626.0 1351.1,1627.2 1352.2,1628.4 1353.3,1629.5 1354.3,1630.5 1355.4,1631.5 1356.5,1632.4 1357.6,1633.2 1358.7,1634.0 1359.8,1634.7 1360.9,1635.4 1362.0,1636.1 1363.1,1636.6 1364.2,1637.2 1365.3,1637.7 1366.4,1638.2 1367.5,1638.6 1368.6,1639.0 1369.6,1639.4 1370.7,1639.7 1371.8,1640.0 1372.9,1640.3 1374.0,1640.6 1375.1,1640.8 1376.2,1641.0 1377.3,1641.2 1378.4,1641.4 1379.5,1641.5 1380.6,1641.6 1381.7,1641.7 1382.8,1641.8 1383.9,1641.8 1385.0,1641.9 1386.0,1641.9 1387.1,1641.9 1388.2,1641.9 1389.3,1641.9 1390.4,1641.8 1391.5,1641.8 1392.6,1641.7 1393.7,1641.6 1394.8,1641.5 1395.9,1641.4 1397.0,1641.3 1398.1,1641.2 1399.2,1641.0 1400.3,1640.9 1401.3,1640.7 1402.4,1640.5 1403.5,1640.3 1404.6,1640.1 1405.7,1639.9 1406.8,1639.7 1407.9,1639.5 1409.0,1639.3 1410.1,1639.0 1411.2,1638.8 1412.3,1638.5 1413.4,1638.3 1414.5,1638.0 1415.6,1637.7 1416.6,1637.5 1417.7,1637.2 1418.8,1636.9 1419.9,1636.6 1421.0,1636.3 1422.1,1636.0 1423.2,1635.7 1424.3,1635.3 1425.4,1635.0 1426.5,1634.7 1427.6,1634.4 1428.7,1634.0 1429.8,1633.7 1430.9,1633.3 1431.9,1633.0 1433.0,1632.6 1434.1,1632.3 1435.2,1631.9 1436.3,1631.5 1437.4,1631.2 1438.5,1630.8 1439.6,1630.4 1440.7,1630.0 1441.8,1629.6 1442.9,1629.3 1444.0,1628.9 1445.1,1628.5 1446.2,1628.1 1447.3,1627.7 1448.3,1627.3 1449.4,1626.9 1450.5,1626.5 1451.6,1626.1 1452.7,1625.7 1453.8,1625.3 1454.9,1624.9 1456.0,1624.4 1457.1,1624.0 1458.2,1623.6 1459.3,1623.2 1460.4,1622.8 1461.5,1622.3 1462.6,1621.9 1463.6,1621.5 1464.7,1621.1 1465.8,1620.7 1466.9,1620.2 1468.0,1619.8 1469.1,1619.4 1470.2,1618.9 1471.3,1618.5 1472.4,1618.1 1473.5,1617.7 1474.6,1617.2 1475.7,1616.8 1476.8,1616.4 1477.9,1615.9 1478.9,1615.5 1480.0,1615.1 1481.1,1614.6 1482.2,1614.2 1483.3,1613.8 1484.4,1613.3 1485.5,1612.9 1486.6,1612.5 1487.7,1612.0 1488.8,1611.6 1489.9,1611.2 1491.0,1610.7 1492.1,1610.3 1493.2,1609.9 1494.2,1609.5 1495.3,1609.0 1496.4,1608.6 1497.5,1608.2 1498.6,1607.8 1499.7,1607.3 1500.8,1606.9 1501.9,1606.5" fill="none" stroke="#000" stroke-width="4.6"/>
<path d="M1560.2,1674.1 L1561.3,1674.1 1562.4,1674.1 1563.5,1674.1 1564.6,1674.1 1565.6,1674.1 1566.7,1674.2 1567.8,1674.2 1568.9,1674.2 1570.0,1674.2 1571.1,1674.2 1572.2,1674.2 1573.3,1674.2 1574.4,1674.3 1575.5,1674.3 1576.5,1674.3 1577.6,1674.3 1578.7,1674.3 1579.8,1674.3 1580.9,1674.4 1582.0,1674.4 1583.1,1674.4 1584.2,1674.4 1585.3,1674.4 1586.3,1674.4 1587.4,1674.5 1588.5,1674.5 1589.6,1674.5 1590.7,1674.5 1591.8,1674.5 1592.9,1674.5 1594.0,1674.6 1595.1,1674.6 1596.1,1674.6 1597.2,1674.6 1598.3,1674.6 1599.4,1674.7 1600.5,1674.7 1601.6,1674.7 1602.7,1674.7 1603.8,1674.7 1604.9,1674.8 1606.0,1674.8 1607.0,1674.8 1608.1,1674.8 1609.2,1674.8 1610.3,1674.9 1611.4,1674.9 1612.5,1674.9 1613.6,1674.9 1614.7,1675.0 1615.8,1675.0 1616.8,1675.0 1617.9,1675.0 1619.0,1675.1 1620.1,1675.1 1621.2,1675.1 1622.3,1675.1 1623.4,1675.2 1624.5,1675.2 1625.6,1675.2 1626.7,1675.2 1627.7,1675.3 1628.8,1675.3 1629.9,1675.3 1631.0,1675.3 1632.1,1675.4 1633.2,1675.4 1634.3,1675.4 1635.4,1675.5 1636.5,1675.5 1637.5,1675.5 1638.6,1675.6 1639.7,1675.6 1640.8,1675.6 1641.9,1675.6 1643.0,1675.7 1644.1,1675.7 1645.2,1675.7 1646.3,1675.8 1647.4,1675.8 1648.4,1675.8 1649.5,1675.9 1650.6,1675.9 1651.7,1675.9 1652.8,1676.0 1653.9,1676.0 1655.0,1676.1 1656.1,1676.1 1657.2,1676.1 1658.2,1676.2 1659.3,1676.2 1660.4,1676.2 1661.5,1676.3 1662.6,1676.3 1663.7,1676.4 1664.8,1676.4 1665.9,1676.4 1667.0,1676.5 1668.0,1676.5 1669.1,1676.6 1670.2,1676.6 1671.3,1676.6 1672.4,1676.7 1673.5,1676.7 1674.6,1676.8 1675.7,1676.8 1676.8,1676.9 1677.9,1676.9 1678.9,1676.9 1680.0,1677.0 1681.1,1677.0 1682.2,1677.1 1683.3,1677.1 1684.4,1677.2 1685.5,1677.2 1686.6,1677.3 1687.7,1677.3 1688.7,1677.4 1689.8,1677.4 1690.9,1677.5 1692.0,1677.5 1693.1,1677.6 1694.2,1677.6 1695.3,1677.7 1696.4,1677.7 1697.5,1677.8 1698.6,1677.8 1699.6,1677.9 1700.7,1677.9 1701.8,1678.0 1702.9,1678.0 1704.0,1678.1 1705.1,1678.1 1706.2,1678.2 1707.3,1678.3 1708.4,1678.3 1709.4,1678.4 1710.5,1678.4 1711.6,1678.5 1712.7,1678.5 1713.8,1678.6 1714.9,1678.6 1716.0,1678.7 1717.1,1678.8 1718.2,1678.8 1719.2,1678.9 1720.3,1678.9 1721.4,1679.0 1722.5,1679.0 1723.6,1679.1 1724.7,1679.2 1725.8,1679.2 1726.9,1679.3 1728.0,1679.3 1729.1,1679.4 1730.1,1679.4 1731.2,1679.5 1732.3,1679.6 1733.4,1679.6 1734.5,1679.7 1735.6,1679.7 1736.7,1679.8 1737.8,1679.8 1738.9,1679.9 1739.9,1680.0 1741.0,1680.0 1742.1,1680.1 1743.2,1680.1 1744.3,1680.2 1745.4,1680.2 1746.5,1680.3 1747.6,1680.3 1748.7,1680.4 1749.8,1680.4 1750.8,1680.5 1751.9,1680.5 1753.0,1680.6 1754.1,1680.6 1755.2,1680.6 1756.3,1680.7 1757.4,1680.7 1758.5,1680.8 1759.6,1680.8 1760.6,1680.8 1761.7,1680.9 1762.8,1680.9 1763.9,1680.9 1765.0,1681.0 1766.1,1681.0 1767.2,1681.0 1768.3,1681.0 1769.4,1681.1 1770.5,1681.1 1771.5,1681.1 1772.6,1681.1 1773.7,1681.1 1774.8,1681.1 1775.9,1681.1 1777.0,1681.1 1778.1,1681.1 1779.2,1681.1 1780.3,1681.1 1781.3,1681.0 1782.4,1681.0 1783.5,1681.0 1784.6,1681.0 1785.7,1680.9 1786.8,1680.9 1787.9,1680.8 1789.0,1680.8 1790.1,1680.7 1791.1,1680.6 1792.2,1680.6 1793.3,1680.5 1794.4,1680.4 1795.5,1680.3 1796.6,1680.2 1797.7,1680.1 1798.8,1679.9 1799.9,1679.8 1801.0,1679.7 1802.0,1679.5 1803.1,1679.3 1804.2,1679.2 1805.3,1679.0 1806.4,1678.8 1807.5,1678.6 1808.6,1678.3 1809.7,1678.1 1810.8,1677.8 1811.8,1677.6 1812.9,1677.3 1814.0,1677.0 1815.1,1676.7 1816.2,1676.3 1817.3,1676.0 1818.4,1675.6 1819.5,1675.2 1820.6,1674.8 1821.7,1674.4 1822.7,1673.9 1823.8,1673.4 1824.9,1672.9 1826.0,1672.4 1827.1,1671.8 1828.2,1671.2 1829.3,1670.6 1830.4,1670.0 1831.5,1669.3 1832.5,1668.6 1833.6,1667.8 1834.7,1667.0 1835.8,1666.2 1836.9,1665.3 1838.0,1664.4 1839.1,1663.4 1840.2,1662.3 1841.3,1661.3 1842.3,1660.1 1843.4,1658.9 1844.5,1657.6 1845.6,1656.3 1846.7,1654.8 1847.8,1653.3 1848.9,1651.7 1850.0,1650.0 1851.1,1648.2 1852.2,1646.2 1853.2,1644.2 1854.3,1641.9 1855.4,1639.5 1856.5,1636.9 1857.6,1634.2 1858.7,1631.1 1859.8,1627.8 1860.9,1624.1 1862.0,1620.1 1863.0,1615.6 1864.1,1610.7 1865.2,1605.1 1866.3,1598.9 1867.4,1591.9 1868.5,1584.0 1869.6,1575.2 1870.7,1565.5 1871.8,1554.8 1872.9,1543.2 1873.9,1530.7 1875.0,1517.3 1876.1,1503.3 1877.2,1488.8 1878.3,1473.8 1879.4,1458.6 1880.5,1443.1 1881.6,1427.7 1882.7,1412.4 1883.7,1397.4 1884.8,1383.0 1885.9,1369.2 1887.0,1356.5 1888.1,1345.0 1889.2,1334.9 1890.3,1326.5 1891.4,1319.6 1892.5,1314.3 1893.5,1310.2 1894.6,1307.2 1895.7,1305.0 1896.8,1303.4 1897.9,1302.3 1899.0,1301.5 1900.1,1301.0 1901.2,1300.5 1902.3,1300.3 1903.4,1300.0 1904.4,1299.9 1905.5,1299.8 1906.6,1299.7 1907.7,1299.6 1908.8,1299.6 1909.9,1299.5 1911.0,1299.5 1912.1,1299.5 1913.2,1299.5 1914.2,1299.5 1915.3,1299.5 1916.4,1299.4 1917.5,1299.4 1918.6,1299.4 1919.7,1299.4 1920.8,1299.4 1921.9,1299.4 1923.0,1299.4 1924.1,1299.4 1925.1,1299.4 1926.2,1299.4 1927.3,1299.4 1928.4,1299.4 1929.5,1299.4 1930.6,1299.4 1931.7,1299.4 1932.8,1299.4 1933.9,1299.4 1934.9,1299.4 1936.0,1299.4 1937.1,1299.4 1938.2,1299.4 1939.3,1299.4 1940.4,1299.4 1941.5,1299.4 1942.6,1299.4 1943.7,1299.4 1944.8,1299.4 1945.8,1299.4 1946.9,1299.4 1948.0,1299.4 1949.1,1299.4 1950.2,1299.4 1951.3,1299.4 1952.4,1299.4 1953.5,1299.4 1954.6,1299.4 1955.6,1299.4 1956.7,1299.4 1957.8,1299.4 1958.9,1299.4 1960.0,1299.4 1961.1,1299.4 1962.2,1299.4 1963.3,1299.4 1964.4,1299.4 1965.4,1299.4 1966.5,1299.4 1967.6,1299.4 1968.7,1299.4 1969.8,1299.5 1970.9,1299.5 1972.0,1299.5 1973.1,1299.5 1974.2,1299.5 1975.3,1299.5 1976.3,1299.5 1977.4,1299.5 1978.5,1299.5 1979.6,1299.5 1980.7,1299.5 1981.8,1299.6 1982.9,1299.6 1984.0,1299.6 1985.1,1299.6 1986.1,1299.6 1987.2,1299.7 1988.3,1299.7 1989.4,1299.7 1990.5,1299.8 1991.6,1299.8 1992.7,1299.9 1993.8,1299.9 1994.9,1300.0 1996.0,1300.0 1997.0,1300.1 1998.1,1300.2 1999.2,1300.3 2000.3,1300.4 2001.4,1300.5 2002.5,1300.6 2003.6,1300.8 2004.7,1300.9 2005.8,1301.1 2006.8,1301.3 2007.9,1301.5 2009.0,1301.7 2010.1,1301.9 2011.2,1302.2 2012.3,1302.5 2013.4,1302.8 2014.5,1303.2 2015.6,1303.6 2016.6,1304.0 2017.7,1304.5 2018.8,1305.0 2019.9,1305.6 2021.0,1306.2 2022.1,1306.8 2023.2,1307.5 2024.3,1308.3 2025.4,1309.1 2026.5,1310.0 2027.5,1310.9 2028.6,1311.9 2029.7,1313.0 2030.8,1314.1 2031.9,1315.3 2033.0,1316.5 2034.1,1317.8 2035.2,1319.2 2036.3,1320.7 2037.3,1322.2 2038.4,1323.8 2039.5,1325.4 2040.6,1327.1 2041.7,1328.9 2042.8,1330.7 2043.9,1332.6 2045.0,1334.5 2046.1,1336.5 2047.2,1338.5 2048.2,1340.5 2049.3,1342.6 2050.4,1344.7 2051.5,1346.9 2052.6,1349.1 2053.7,1351.3 2054.8,1353.5 2055.9,1355.8 2057.0,1358.0 2058.0,1360.3 2059.1,1362.6 2060.2,1364.9 2061.3,1367.2 2062.4,1369.5 2063.5,1371.8 2064.6,1374.1 2065.7,1376.4 2066.8,1378.7 2067.9,1381.0 2068.9,1383.3 2070.0,1385.5 2071.1,1387.8 2072.2,1390.0 2073.3,1392.3 2074.4,1394.5 2075.5,1396.7 2076.6,1398.9 2077.7,1401.1 2078.7,1403.2 2079.8,1405.3 2080.9,1407.5 2082.0,1409.6 2083.1,1411.6 2084.2,1413.7 2085.3,1415.7 2086.4,1417.8 2087.5,1419.8 2088.5,1421.7 2089.6,1423.7 2090.7,1425.6 2091.8,1427.5 2092.9,1429.4 2094.0,1431.3 2095.1,1433.1 2096.2,1435.0 2097.3,1436.8 2098.4,1438.5 2099.4,1440.3 2100.5,1442.0 2101.6,1443.8 2102.7,1445.4 2103.8,1447.1" fill="none" stroke="#000" stroke-width="4.6"/>
<text x="-1.43" y="66.86" font-size="83" text-anchor="start">a</text>
<text x="-1.43" y="783.78" font-size="90.5" text-anchor="start">b</text>
<text x="-1.37" y="1341.17" font-size="91" text-anchor="start">c</text>
<text x="529.32" y="60.1" font-size="84" text-anchor="start">n</text>
<text x="576.05" y="77.08" font-size="53" text-anchor="start">c</text>
<text x="617.9" y="57.02" font-size="79.8" text-anchor="start">=</text>
<text x="686.58" y="60.1" font-size="84" text-anchor="start">2</text>
<text x="527.52" y="157.7" font-size="84" text-anchor="start">n</text>
<text x="574.68" y="175.18" font-size="53" text-anchor="start">p</text>
<text x="620.3" y="156.42" font-size="79.8" text-anchor="start">=</text>
<text x="686.58" y="157.7" font-size="84" text-anchor="start">2</text>
<text x="1096.42" y="60.1" font-size="84" text-anchor="start">n</text>
<text x="1143.25" y="77.08" font-size="53" text-anchor="start">c</text>
<text x="1185.0" y="57.02" font-size="79.8" text-anchor="start">=</text>
<text x="1256.43" y="60.1" font-size="87.0" text-anchor="start">1</text>
<text x="1094.62" y="157.7" font-size="84" text-anchor="start">n</text>
<text x="1141.48" y="175.18" font-size="53" text-anchor="start">p</text>
<text x="1186.8" y="156.42" font-size="79.8" text-anchor="start">=</text>
<text x="1255.4" y="156.88" font-size="84" text-anchor="start">3</text>
<text x="1693.42" y="60.1" font-size="84" text-anchor="start">n</text>
<text x="1738.45" y="77.08" font-size="53" text-anchor="start">c</text>
<text x="1780.3" y="57.02" font-size="79.8" text-anchor="start">=</text>
<text x="1852.4" y="59.28" font-size="84" text-anchor="start">3</text>
<text x="1691.72" y="157.7" font-size="84" text-anchor="start">n</text>
<text x="1736.08" y="175.18" font-size="53" text-anchor="start">p</text>
<text x="1782.6" y="156.42" font-size="79.8" text-anchor="start">=</text>
<text x="1853.43" y="157.7" font-size="87.0" text-anchor="start">1</text>
<text x="223.85" y="285.75" font-size="84" text-anchor="start">0.8</text>
<text x="222.65" y="488.95" font-size="84" text-anchor="start">0.4</text>
<text x="291.06" y="669.15" font-size="84" text-anchor="start">0</text>
<text x="219.15" y="768.25" font-size="84" text-anchor="start">0.2</text>
<text x="291.16" y="933.75" font-size="84" text-anchor="start">0</text>
<text x="191.48" y="1095.85" font-size="84" text-anchor="start">-0.2</text>
<text x="295.53" y="1336.2" font-size="87.0" text-anchor="start">1</text>
<text x="200.03" y="1509.6" font-size="87.0" text-anchor="start">1</text>
<text x="244.52" y="1509.05" font-size="84" text-anchor="start">0</text>
<text x="290.15" y="1483.31" font-size="53" text-anchor="start">-2</text>
<text x="200.03" y="1678.5" font-size="87.0" text-anchor="start">1</text>
<text x="244.52" y="1677.85" font-size="84" text-anchor="start">0</text>
<text x="290.15" y="1653.66" font-size="53" text-anchor="start">-4</text>
<text x="364.52" y="1825.75" font-size="84" text-anchor="start">0.</text>
<text x="436.43" y="1825.7" font-size="87.0" text-anchor="start">1</text>
<text x="536.33" y="1825.7" font-size="87.0" text-anchor="start">1</text>
<text x="688.83" y="1825.7" font-size="87.0" text-anchor="start">1</text>
<text x="732.82" y="1824.45" font-size="84" text-anchor="start">0</text>
<text x="845.43" y="1825.7" font-size="87.0" text-anchor="start">1</text>
<text x="888.92" y="1824.45" font-size="84" text-anchor="start">00</text>
<text x="515.84" y="1920.48" font-size="82.5" text-anchor="start">Antibiotic</text>
<text x="454.66" y="298.58" font-size="63.8" text-anchor="start">Chromosome</text>
<text x="386.63" y="490.97" font-size="64.2" text-anchor="start">Plasmid</text>
<text x="1028.66" y="298.48" font-size="63.8" text-anchor="start">Chromosome</text>
<text x="967.23" y="471.47" font-size="64.2" text-anchor="start">Plasmid</text>
<text x="1636.66" y="283.48" font-size="63.8" text-anchor="start">Chromosome</text>
<text x="1577.23" y="516.47" font-size="64.2" text-anchor="start">Plasmid</text>
<text x="180.7" y="654.71" font-size="81.8" text-anchor="start" transform="rotate(-90 180.7 654.71)">Growth rate</text>
<text x="180.7" y="1762.91" font-size="81.8" text-anchor="start" transform="rotate(-90 180.7 1762.91)">Fraction of S</text>
<text x="197.2" y="1302.77" font-size="53" text-anchor="start" transform="rotate(-90 197.2 1302.77)" font-style="italic">p</text>
<text x="66.77" y="1007.52" font-size="74.2" text-anchor="start" transform="rotate(-90 66.77 1007.52)" font-family="DejaVu Sans">△</text>
<text x="78.96" y="936.93" font-size="82" text-anchor="start" transform="rotate(-90 78.96 936.93)">μ</text>
<text x="160.57" y="1074.75" font-size="60.5" text-anchor="start" transform="rotate(-90 160.57 1074.75)">(</text>
<text x="161.49" y="1053.88" font-size="60.5" text-anchor="start" transform="rotate(-90 161.49 1053.88)">μ</text>
<text x="173.91" y="1000.11" font-size="39" text-anchor="start" transform="rotate(-90 173.91 1000.11)">p</text>
<text x="162.0" y="958.59" font-size="60.5" text-anchor="start" transform="rotate(-90 162.0 958.59)">-</text>
<text x="161.49" y="921.68" font-size="60.5" text-anchor="start" transform="rotate(-90 161.49 921.68)">μ</text>
<text x="172.72" y="867.76" font-size="39" text-anchor="start" transform="rotate(-90 172.72 867.76)">c</text>
<text x="160.47" y="831.35" font-size="60.5" text-anchor="start" transform="rotate(-90 160.47 831.35)">)</text>
<rect x="1262.06" y="52.6" width="16.25" height="8.5" fill="#fff"/>
<rect x="1286.0" y="52.6" width="15.57" height="8.5" fill="#fff"/>
<rect x="1859.06" y="150.2" width="16.25" height="8.5" fill="#fff"/>
<rect x="1883.0" y="150.2" width="15.57" height="8.5" fill="#fff"/>
<rect x="301.16" y="1328.7" width="16.25" height="8.5" fill="#fff"/>
<rect x="325.1" y="1328.7" width="15.57" height="8.5" fill="#fff"/>
<rect x="205.66" y="1502.1" width="16.25" height="8.5" fill="#fff"/>
<rect x="229.6" y="1502.1" width="15.57" height="8.5" fill="#fff"/>
<rect x="205.66" y="1671.0" width="16.25" height="8.5" fill="#fff"/>
<rect x="229.6" y="1671.0" width="15.57" height="8.5" fill="#fff"/>
<rect x="442.06" y="1818.2" width="16.25" height="8.5" fill="#fff"/>
<rect x="466.0" y="1818.2" width="15.57" height="8.5" fill="#fff"/>
<rect x="541.96" y="1818.2" width="16.25" height="8.5" fill="#fff"/>
<rect x="565.9" y="1818.2" width="15.57" height="8.5" fill="#fff"/>
<rect x="694.46" y="1818.2" width="16.25" height="8.5" fill="#fff"/>
<rect x="718.4" y="1818.2" width="15.57" height="8.5" fill="#fff"/>
<rect x="851.06" y="1818.2" width="16.25" height="8.5" fill="#fff"/>
<rect x="875.0" y="1818.2" width="15.57" height="8.5" fill="#fff"/>
</svg></body></html>
